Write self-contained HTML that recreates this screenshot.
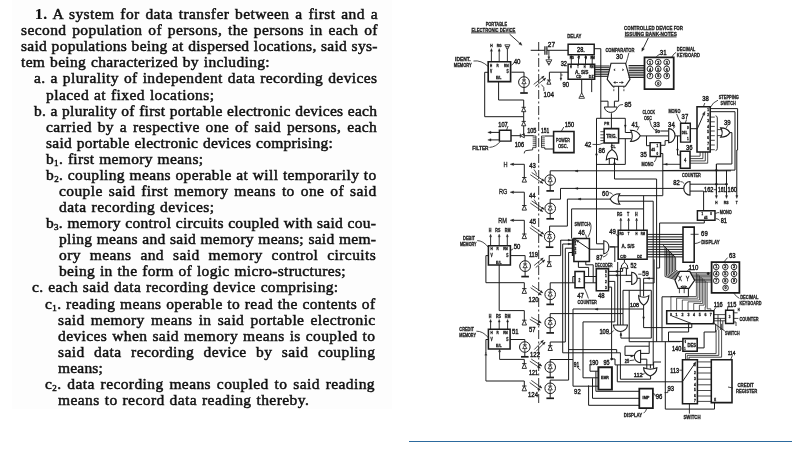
<!DOCTYPE html>
<html><head><meta charset="utf-8"><title>Claim 1</title>
<style>
html,body{margin:0;padding:0;background:#fff;}
body{width:804px;height:452px;position:relative;overflow:hidden;font-family:"Liberation Serif",serif;}
.l{position:absolute;height:16px;line-height:16px;font-size:15.5px;color:#111;white-space:nowrap;-webkit-text-stroke:0.5px #111;}
.l b{font-weight:bold;-webkit-text-stroke:0.2px #111;}
.l sub{font-size:9px;vertical-align:-2px;line-height:0;}
#txt{position:absolute;left:0;top:0;width:402px;height:452px;filter:blur(0.35px);}
#txtbg{position:absolute;left:12px;top:0;width:380px;height:409px;background:#fdfdfd;}
#rule{position:absolute;left:409px;top:440.8px;width:383px;height:1.2px;background:#2c6a9e;}
#dg{position:absolute;left:0;top:0;filter:blur(0.3px);}
</style></head><body>
<div id="txtbg"></div>
<div id="txt">
<div class="l" style="left:35px;top:6.10px;letter-spacing:0.400px;word-spacing:1.572px"><b>1.</b> A system for data transfer between a first and a</div>
<div class="l" style="left:21px;top:22.18px;letter-spacing:0.400px;word-spacing:1.491px">second population of persons, the persons in each of</div>
<div class="l" style="left:21px;top:38.26px;letter-spacing:0.291px;word-spacing:0.300px">said populations being at dispersed locations, said sys-</div>
<div class="l" style="left:21px;top:54.34px;letter-spacing:0.337px;word-spacing:0.600px">tem being characterized by including:</div>
<div class="l" style="left:34px;top:70.42px;letter-spacing:0.400px;word-spacing:0.723px">a. a plurality of independent data recording devices</div>
<div class="l" style="left:46px;top:86.50px;letter-spacing:0.436px;word-spacing:0.600px">placed at fixed locations;</div>
<div class="l" style="left:34px;top:102.58px;letter-spacing:0.253px;word-spacing:0.300px">b. a plurality of first portable electronic devices each</div>
<div class="l" style="left:46px;top:118.66px;letter-spacing:0.400px;word-spacing:1.553px">carried by a respective one of said persons, each</div>
<div class="l" style="left:46px;top:134.74px;letter-spacing:0.266px;word-spacing:0.600px">said portable electronic devices comprising:</div>
<div class="l" style="left:46px;top:150.82px;letter-spacing:0.316px;word-spacing:0.600px">b<sub>1</sub>. first memory means;</div>
<div class="l" style="left:46px;top:166.90px;letter-spacing:0.368px;word-spacing:0.300px">b<sub>2</sub>. coupling means operable at will temporarily to</div>
<div class="l" style="left:59px;top:182.98px;letter-spacing:0.400px;word-spacing:1.724px">couple said first memory means to one of said</div>
<div class="l" style="left:59px;top:199.06px;letter-spacing:0.459px;word-spacing:0.600px">data recording devices;</div>
<div class="l" style="left:46px;top:215.14px;letter-spacing:0.291px;word-spacing:0.300px">b<sub>3</sub>. memory control circuits coupled with said cou-</div>
<div class="l" style="left:59px;top:231.22px;letter-spacing:0.285px;word-spacing:0.300px">pling means and said memory means; said mem-</div>
<div class="l" style="left:59px;top:247.30px;letter-spacing:0.400px;word-spacing:4.714px">ory means and said memory control circuits</div>
<div class="l" style="left:59px;top:263.38px;letter-spacing:0.336px;word-spacing:0.600px">being in the form of logic micro-structures;</div>
<div class="l" style="left:32px;top:279.46px;letter-spacing:0.344px;word-spacing:0.600px">c. each said data recording device comprising:</div>
<div class="l" style="left:45px;top:295.54px;letter-spacing:0.400px;word-spacing:0.332px">c<sub>1</sub>. reading means operable to read the contents of</div>
<div class="l" style="left:58px;top:311.62px;letter-spacing:0.400px;word-spacing:1.874px">said memory means in said portable electronic</div>
<div class="l" style="left:58px;top:327.70px;letter-spacing:0.400px;word-spacing:0.718px">devices when said memory means is coupled to</div>
<div class="l" style="left:58px;top:343.78px;letter-spacing:0.400px;word-spacing:5.265px">said data recording device by said coupling</div>
<div class="l" style="left:58px;top:359.86px;letter-spacing:0.197px;word-spacing:0.600px">means;</div>
<div class="l" style="left:45px;top:375.94px;letter-spacing:0.400px;word-spacing:1.571px">c<sub>2</sub>. data recording means coupled to said reading</div>
<div class="l" style="left:58px;top:392.02px;letter-spacing:0.431px;word-spacing:0.600px">means to record data reading thereby.</div>
</div>
<svg id="dg" width="804" height="452" viewBox="0 0 804 452" font-family="'Liberation Sans', sans-serif" fill="#1b1b1b" stroke="#1b1b1b" stroke-linecap="butt" stroke-linejoin="miter">
<text x="496.4" y="25.8" font-size="5.8" font-weight="bold" text-anchor="middle" textLength="21.5" lengthAdjust="spacingAndGlyphs" stroke="#1b1b1b" stroke-width="0.32">PORTABLE</text>
<text x="493.4" y="31.7" font-size="5.8" font-weight="bold" text-anchor="middle" textLength="44" lengthAdjust="spacingAndGlyphs" stroke="#1b1b1b" stroke-width="0.32">ELECTRONIC DEVICE</text>
<path d="M471 32.9 L515.8 32.9" stroke-width="0.8" fill="none"/>
<path d="M509.6 34.1 L519.7 43.2" stroke-width="0.9" fill="none"/>
<path d="M522 45.3 L518.8 44.1 L520.5 42.2 Z" stroke-width="0.4" fill="#1b1b1b"/>
<text x="462.8" y="60.6" font-size="5.8" font-weight="bold" text-anchor="middle" textLength="15.5" lengthAdjust="spacingAndGlyphs" stroke="#1b1b1b" stroke-width="0.32">IDENT.</text>
<text x="462.8" y="66.8" font-size="5.8" font-weight="bold" text-anchor="middle" textLength="18" lengthAdjust="spacingAndGlyphs" stroke="#1b1b1b" stroke-width="0.32">MEMORY</text>
<path d="M473.5 61 Q481 59.8 488.5 66.7" stroke-width="0.8" fill="none"/>
<path d="M488.2 61.7 L510.6 61.7 L510.6 81.6 L488.2 81.6 Z" stroke-width="1.65" fill="none"/>
<path d="M491.4 61.7 L491.4 51.2" stroke-width="0.9" fill="none"/>
<path d="M491.4 48.6 L492.4 51.2 L490.4 51.2 Z" stroke-width="0.4" fill="#1b1b1b"/>
<text transform="translate(491.4 47.1) scale(0.8 1)" font-size="4.2" font-weight="bold" text-anchor="middle" stroke="#1b1b1b" stroke-width="0.32">H</text>
<path d="M499.2 61.7 L499.2 51.2" stroke-width="0.9" fill="none"/>
<path d="M499.2 48.6 L500.2 51.2 L498.2 51.2 Z" stroke-width="0.4" fill="#1b1b1b"/>
<text transform="translate(499.2 47.1) scale(0.8 1)" font-size="4.2" font-weight="bold" text-anchor="middle" stroke="#1b1b1b" stroke-width="0.32">RG</text>
<path d="M507.4 61.7 L507.4 49.9" stroke-width="0.9" fill="none"/>
<path d="M507.4 49.8 L507.5 49.9 L507.3 49.9 Z" stroke-width="0.4" fill="#1b1b1b"/>
<path d="M504.8 44.8 L510 44.8 L507.4 49.8 Z M505.8 46.5 L508.9 46.5 M506.6 48.1 L508.1 48.1" stroke-width="0.8" fill="none"/>
<text transform="translate(491.2 66.7) scale(0.72 1)" font-size="4.2" font-weight="bold" text-anchor="middle" stroke="#1b1b1b" stroke-width="0.32">H</text>
<text transform="translate(497.7 66.7) scale(0.72 1)" font-size="4.2" font-weight="bold" text-anchor="middle" stroke="#1b1b1b" stroke-width="0.32">R</text>
<text transform="translate(506.4 66.7) scale(0.7 1)" font-size="4.2" font-weight="bold" text-anchor="middle" stroke="#1b1b1b" stroke-width="0.32">RM</text>
<text transform="translate(491.2 72.6) scale(0.72 1)" font-size="4.6" font-weight="bold" text-anchor="middle" stroke="#1b1b1b" stroke-width="0.32">V</text>
<text transform="translate(507.6 72.6) scale(0.72 1)" font-size="4.6" font-weight="bold" text-anchor="middle" stroke="#1b1b1b" stroke-width="0.32">S</text>
<text transform="translate(498.7 79) scale(0.8 1)" font-size="4.4" font-weight="bold" text-anchor="middle" stroke="#1b1b1b" stroke-width="0.32">E/L</text>
<text transform="translate(517.1 64.1) scale(0.85 1)" font-size="7.2" font-weight="normal" text-anchor="middle" stroke="#1b1b1b" stroke-width="0.42">40</text>
<path d="M511.3 65.2 Q513.3 64.2 514.1 62.7" stroke-width="0.8" fill="none"/>
<path d="M511.3 72.2 L524 72.2 L524 76.7" stroke-width="1.0" fill="none"/>
<circle cx="524" cy="82.1" r="5.4" stroke-width="1.0" fill="none"/>
<path d="M524 76.7 L524 79.9 M522 79.9 L526 79.9 M524 80.1 L521.9 83.7 L526.1 83.7 Z M524 83.7 L524 87.5" stroke-width="0.8" fill="none"/>
<path d="M524 87.5 L524 92.5" stroke-width="1.0" fill="none"/>
<path d="M520.2 93 L527.8 93" stroke-width="1.7" fill="none"/>
<path d="M498.6 81.6 L498.6 100 L523.7 100 L523.7 107.2" stroke-width="1.0" fill="none"/>
<path d="M521.6 111.7 L525.8 111.7 L523.7 107.3 Z M521.6 107.3 L525.8 107.3" stroke-width="0.9" fill="none"/>
<path d="M523.7 111.7 L523.7 116.7" stroke-width="1.0" fill="none"/>
<path d="M488 72.3 L484.7 72.3 L484.7 116.7 L523.7 116.7 L523.7 121.3" stroke-width="1.0" fill="none"/>
<path d="M521.6 125.8 L525.8 125.8 L523.7 121.4 Z M521.6 121.4 L525.8 121.4" stroke-width="0.9" fill="none"/>
<path d="M523.7 125.8 L523.7 135.7" stroke-width="1.0" fill="none"/>
<path d="M538.7 42 L538.7 403" stroke-width="0.9" fill="none" stroke-dasharray="9 2.5 2 2.5"/>
<path d="M530.7 50.3 L544.9 50.3" stroke-width="1.0" fill="none"/>
<path d="M544.9 46.3 L544.9 54.8" stroke-width="1.2" fill="none"/>
<path d="M546.9 46.3 L546.9 54.8" stroke-width="1.2" fill="none"/>
<path d="M546.9 50.3 L568.1 50.3" stroke-width="1.0" fill="none"/>
<text transform="translate(551.4 47.1) scale(0.85 1)" font-size="7.6" font-weight="normal" text-anchor="middle" stroke="#1b1b1b" stroke-width="0.42">27</text>
<path d="M548.9 50.3 L548.9 56.7" stroke-width="0.9" fill="none"/>
<path d="M548.9 59.3 L547.9 56.7 L549.9 56.7 Z" stroke-width="0.4" fill="#1b1b1b"/>
<path d="M545.9 59.8 L551.9 59.8 L548.9 65.3 Z M547.1 61.6 L550.7 61.6 M548 63.4 L549.8 63.4" stroke-width="0.8" fill="none"/>
<text x="574.3" y="37.7" font-size="5.8" font-weight="bold" text-anchor="middle" textLength="14" lengthAdjust="spacingAndGlyphs" stroke="#1b1b1b" stroke-width="0.32">DELAY</text>
<path d="M568.1 44.3 L594.2 44.3 L594.2 54.8 L568.1 54.8 Z" stroke-width="1.4500000000000002" fill="none"/>
<text transform="translate(581 52.2) scale(0.85 1)" font-size="6.6" font-weight="normal" text-anchor="middle" stroke="#1b1b1b" stroke-width="0.42">28.</text>
<path d="M594.2 48.7 L600.8 48.7 L600.8 118.3" stroke-width="1.0" fill="none"/>
<path d="M571.3 64.2 L571.3 57.7" stroke-width="0.9" fill="none"/>
<path d="M571.3 55.3 L572.2 57.7 L570.4 57.7 Z" stroke-width="0.4" fill="#1b1b1b"/>
<text transform="translate(571.8 58.7) scale(0.8 1)" font-size="3.4" font-weight="bold" text-anchor="middle" stroke="#1b1b1b" stroke-width="0.32">RG</text>
<path d="M578.5 64.2 L578.5 57.7" stroke-width="0.9" fill="none"/>
<path d="M578.5 55.3 L579.4 57.7 L577.6 57.7 Z" stroke-width="0.4" fill="#1b1b1b"/>
<text transform="translate(579 58.7) scale(0.8 1)" font-size="3.4" font-weight="bold" text-anchor="middle" stroke="#1b1b1b" stroke-width="0.32">T</text>
<path d="M585.5 64.2 L585.5 57.7" stroke-width="0.9" fill="none"/>
<path d="M585.5 55.3 L586.4 57.7 L584.6 57.7 Z" stroke-width="0.4" fill="#1b1b1b"/>
<text transform="translate(586 58.7) scale(0.8 1)" font-size="3.4" font-weight="bold" text-anchor="middle" stroke="#1b1b1b" stroke-width="0.32">H</text>
<path d="M592.2 64.2 L592.2 57.7" stroke-width="0.9" fill="none"/>
<path d="M592.2 55.3 L593.1 57.7 L591.3 57.7 Z" stroke-width="0.4" fill="#1b1b1b"/>
<text transform="translate(592.7 58.7) scale(0.8 1)" font-size="3.4" font-weight="bold" text-anchor="middle" stroke="#1b1b1b" stroke-width="0.32">RM</text>
<path d="M568.1 64.2 L594.7 64.2 L594.7 79.2 L568.1 79.2 Z" stroke-width="1.4500000000000002" fill="none"/>
<text transform="translate(563.8 65.9) scale(0.85 1)" font-size="6.6" font-weight="normal" text-anchor="middle" stroke="#1b1b1b" stroke-width="0.42">32</text>
<text transform="translate(570.8 68.2) scale(0.72 1)" font-size="3.4" font-weight="bold" text-anchor="middle" stroke="#1b1b1b" stroke-width="0.32">H</text>
<text transform="translate(578 68.2) scale(0.72 1)" font-size="3.4" font-weight="bold" text-anchor="middle" stroke="#1b1b1b" stroke-width="0.32">T</text>
<text transform="translate(584.7 68.2) scale(0.72 1)" font-size="3.4" font-weight="bold" text-anchor="middle" stroke="#1b1b1b" stroke-width="0.32">H</text>
<text transform="translate(591.7 68.2) scale(0.72 1)" font-size="3.4" font-weight="bold" text-anchor="middle" stroke="#1b1b1b" stroke-width="0.32">RM</text>
<text x="581.7" y="73.5" font-size="5.0" font-weight="bold" text-anchor="middle" textLength="13.6" lengthAdjust="spacingAndGlyphs" stroke="#1b1b1b" stroke-width="0.32">A. S/S</text>
<text transform="translate(578.8 78.3) scale(0.8 1)" font-size="4.4" font-weight="bold" text-anchor="middle" stroke="#1b1b1b" stroke-width="0.32">CD</text>
<text transform="translate(591.2 78.3) scale(0.8 1)" font-size="4.4" font-weight="bold" text-anchor="middle" stroke="#1b1b1b" stroke-width="0.32">DZ</text>
<path d="M568.1 72.2 L549.4 72.2 L549.4 79.7" stroke-width="1.0" fill="none"/>
<path d="M546.9 84.2 L550.9 84.2 L548.9 80 Z M546.9 80 L550.9 80" stroke-width="0.9" fill="none"/>
<text transform="translate(565.8 87.4) scale(0.85 1)" font-size="7.0" font-weight="normal" text-anchor="middle" stroke="#1b1b1b" stroke-width="0.42">90</text>
<path d="M560.9 72.2 L560.9 78" stroke-width="0.9" fill="none"/>
<path d="M560.9 80.4 L560 78 L561.8 78 Z" stroke-width="0.4" fill="#1b1b1b"/>
<path d="M560.9 75 L562.6 75" stroke-width="0.8" fill="none"/>
<path d="M533.7 84.4 L544.1 76.1" stroke-width="0.8" fill="none"/>
<path d="M544.1 76.1 L542.8 78.6 L541.4 76.9 Z" stroke-width="0.3" fill="#1b1b1b"/>
<path d="M535.3 86.4 L545.7 78.2" stroke-width="0.8" fill="none"/>
<path d="M545.7 78.2 L544.4 80.7 L543 78.9 Z" stroke-width="0.3" fill="#1b1b1b"/>
<text x="548.7" y="96.8" font-size="7.0" font-weight="normal" text-anchor="middle" textLength="10.4" lengthAdjust="spacingAndGlyphs" stroke="#1b1b1b" stroke-width="0.42">104</text>
<path d="M541.4 84.6 Q544.9 87.1 543.9 91.1" stroke-width="0.8" fill="none"/>
<path d="M581.7 79.2 L581.7 93.3" stroke-width="1.0" fill="none"/>
<path d="M578.9 98.3 L584.5 98.3 L581.7 92.8 Z M580.1 96.5 L583.4 96.5" stroke-width="0.8" fill="none"/>
<path d="M591.7 79.2 L591.7 92.1" stroke-width="1.0" fill="none"/>
<path d="M594.7 66 L609.6 66" stroke-width="0.95" fill="none"/>
<path d="M594.7 67.7 L609.6 67.7" stroke-width="0.95" fill="none"/>
<path d="M594.7 69.5 L609.6 69.5" stroke-width="0.95" fill="none"/>
<path d="M594.7 71.2 L609.6 71.2" stroke-width="0.95" fill="none"/>
<path d="M594.7 72.9 L609.6 72.9" stroke-width="0.95" fill="none"/>
<path d="M594.7 74.7 L609.6 74.7" stroke-width="0.95" fill="none"/>
<path d="M594.7 76.4 L609.6 76.4" stroke-width="0.95" fill="none"/>
<text x="653.5" y="29.5" font-size="5.8" font-weight="bold" text-anchor="middle" textLength="59" lengthAdjust="spacingAndGlyphs" stroke="#1b1b1b" stroke-width="0.32">CONTROLLED DEVICE FOR</text>
<text x="650.8" y="36.2" font-size="5.8" font-weight="bold" text-anchor="middle" textLength="52" lengthAdjust="spacingAndGlyphs" stroke="#1b1b1b" stroke-width="0.32">ISSUING BANK-NOTES</text>
<path d="M624.6 36.9 L676.6 36.9" stroke-width="0.8" fill="none"/>
<path d="M648.3 37.9 L643.2 48.4" stroke-width="0.9" fill="none"/>
<path d="M641.8 51.3 L642 47.8 L644.4 49 Z" stroke-width="0.4" fill="#1b1b1b"/>
<text x="619.9" y="51.9" font-size="5.8" font-weight="bold" text-anchor="middle" textLength="29" lengthAdjust="spacingAndGlyphs" stroke="#1b1b1b" stroke-width="0.32">COMPARATOR</text>
<text transform="translate(619.4 59.4) scale(0.85 1)" font-size="7.2" font-weight="normal" text-anchor="middle" stroke="#1b1b1b" stroke-width="0.42">30</text>
<path d="M628.9 52.8 Q627.6 58.5 625.9 63.5" stroke-width="0.8" fill="none"/>
<path d="M611 63.3 L625.6 63.3 L630 79.4 L625.4 86.2 L612.6 86.2 L607.2 79.4 Z" stroke-width="1.1" fill="#fff"/>
<text transform="translate(614.5 71.2) scale(0.72 1)" font-size="3.4" font-weight="bold" text-anchor="middle" stroke="#1b1b1b" stroke-width="0.32">&lt;</text>
<text transform="translate(623 71.2) scale(0.72 1)" font-size="3.4" font-weight="bold" text-anchor="middle" stroke="#1b1b1b" stroke-width="0.32">&gt;</text>
<path d="M618 82.5 L615.3 82.5" stroke-width="0.7" fill="none"/>
<path d="M613.5 82.5 L615.3 81.6 L615.3 83.4 Z" stroke-width="0.4" fill="#1b1b1b"/>
<path d="M619 82.5 L621.7 82.5" stroke-width="0.7" fill="none"/>
<path d="M623.5 82.5 L621.7 83.4 L621.7 81.6 Z" stroke-width="0.4" fill="#1b1b1b"/>
<path d="M613.8 86.2 L613.8 91.4" stroke-width="0.8" fill="none" stroke-dasharray="2 1"/>
<path d="M623.9 86.2 L623.9 91.4" stroke-width="0.8" fill="none" stroke-dasharray="2 1"/>
<path d="M618.6 86.2 L618.6 101.2 L614.4 101.2 L614.4 107" stroke-width="1.0" fill="none"/>
<path d="M600.8 101.2 L608 101.2 L608 107" stroke-width="1.0" fill="none"/>
<path d="M604.3 107 L604.3 107 L617.2 107 L617.2 107 A6.5 6.2 0 0 1 604.3 107 Z" stroke-width="1.0" fill="#fff"/>
<text transform="translate(628 107.1) scale(0.85 1)" font-size="7.2" font-weight="normal" text-anchor="middle" stroke="#1b1b1b" stroke-width="0.42">85</text>
<path d="M617.5 107.5 Q619 104 623 104.5" stroke-width="0.8" fill="none"/>
<path d="M628.6 65.5 L644.5 65.5" stroke-width="0.95" fill="none"/>
<path d="M628.6 67.2 L644.5 67.2" stroke-width="0.95" fill="none"/>
<path d="M628.6 68.9 L644.5 68.9" stroke-width="0.95" fill="none"/>
<path d="M628.6 70.6 L644.5 70.6" stroke-width="0.95" fill="none"/>
<path d="M628.6 72.3 L644.5 72.3" stroke-width="0.95" fill="none"/>
<path d="M628.6 74.1 L644.5 74.1" stroke-width="0.95" fill="none"/>
<path d="M628.6 75.8 L644.5 75.8" stroke-width="0.95" fill="none"/>
<path d="M628.6 77.5 L644.5 77.5" stroke-width="0.95" fill="none"/>
<path d="M644.5 57.3 L673.7 57.3 L673.7 89.1 L644.5 89.1 Z" stroke-width="1.75" fill="none"/>
<circle cx="650" cy="62.2" r="2.9" stroke-width="0.9" fill="none"/>
<text transform="translate(650 63.8) scale(0.9 1)" font-size="4.2" font-weight="bold" text-anchor="middle" stroke="#1b1b1b" stroke-width="0.32">1</text>
<circle cx="658.2" cy="62.2" r="2.9" stroke-width="0.9" fill="none"/>
<text transform="translate(658.2 63.8) scale(0.9 1)" font-size="4.2" font-weight="bold" text-anchor="middle" stroke="#1b1b1b" stroke-width="0.32">2</text>
<circle cx="666.7" cy="62.2" r="2.9" stroke-width="0.9" fill="none"/>
<text transform="translate(666.7 63.8) scale(0.9 1)" font-size="4.2" font-weight="bold" text-anchor="middle" stroke="#1b1b1b" stroke-width="0.32">3</text>
<circle cx="650" cy="69" r="2.9" stroke-width="0.9" fill="none"/>
<text transform="translate(650 70.5) scale(0.9 1)" font-size="4.2" font-weight="bold" text-anchor="middle" stroke="#1b1b1b" stroke-width="0.32">4</text>
<circle cx="658.2" cy="69" r="2.9" stroke-width="0.9" fill="none"/>
<text transform="translate(658.2 70.5) scale(0.9 1)" font-size="4.2" font-weight="bold" text-anchor="middle" stroke="#1b1b1b" stroke-width="0.32">5</text>
<circle cx="666.7" cy="69" r="2.9" stroke-width="0.9" fill="none"/>
<text transform="translate(666.7 70.5) scale(0.9 1)" font-size="4.2" font-weight="bold" text-anchor="middle" stroke="#1b1b1b" stroke-width="0.32">6</text>
<circle cx="650" cy="75.9" r="2.9" stroke-width="0.9" fill="none"/>
<text transform="translate(650 77.4) scale(0.9 1)" font-size="4.2" font-weight="bold" text-anchor="middle" stroke="#1b1b1b" stroke-width="0.32">7</text>
<circle cx="658.2" cy="75.9" r="2.9" stroke-width="0.9" fill="none"/>
<text transform="translate(658.2 77.4) scale(0.9 1)" font-size="4.2" font-weight="bold" text-anchor="middle" stroke="#1b1b1b" stroke-width="0.32">8</text>
<circle cx="666.7" cy="75.9" r="2.9" stroke-width="0.9" fill="none"/>
<text transform="translate(666.7 77.4) scale(0.9 1)" font-size="4.2" font-weight="bold" text-anchor="middle" stroke="#1b1b1b" stroke-width="0.32">9</text>
<circle cx="658.2" cy="83.4" r="2.9" stroke-width="0.9" fill="none"/>
<text transform="translate(658.2 84.9) scale(0.9 1)" font-size="4.2" font-weight="bold" text-anchor="middle" stroke="#1b1b1b" stroke-width="0.32">0</text>
<text transform="translate(663.2 54.9) scale(0.85 1)" font-size="7.2" font-weight="normal" text-anchor="middle" stroke="#1b1b1b" stroke-width="0.42">31</text>
<path d="M660 54.3 Q657.5 54.8 656.2 57.3" stroke-width="0.8" fill="none"/>
<text x="686.1" y="51.1" font-size="5.8" font-weight="bold" text-anchor="middle" textLength="18.5" lengthAdjust="spacingAndGlyphs" stroke="#1b1b1b" stroke-width="0.32">DECIMAL</text>
<text x="688.3" y="57.4" font-size="5.8" font-weight="bold" text-anchor="middle" textLength="23" lengthAdjust="spacingAndGlyphs" stroke="#1b1b1b" stroke-width="0.32">KEYBOARD</text>
<path d="M676.1 52.3 Q673.7 53.5 671.7 57.3" stroke-width="0.8" fill="none"/>
<path d="M499.4 130.3 L511 130.3 L511 141.1 L499.4 141.1 Z" stroke-width="1.4500000000000002" fill="none"/>
<text transform="translate(503 127) scale(0.85 1)" font-size="6.6" font-weight="normal" text-anchor="middle" stroke="#1b1b1b" stroke-width="0.42">107</text>
<path d="M508 126 L506.5 130.3" stroke-width="0.8" fill="none"/>
<path d="M499.4 132.4 L491 132.4" stroke-width="1.0" fill="none"/>
<path d="M487.8 132.4 L491 131.2 L491 133.6 Z" stroke-width="0.4" fill="#1b1b1b"/>
<path d="M499.4 139.9 L491 139.9" stroke-width="1.0" fill="none"/>
<path d="M487.8 139.9 L491 138.7 L491 141.1 Z" stroke-width="0.4" fill="#1b1b1b"/>
<text x="480.4" y="149.5" font-size="5.8" font-weight="bold" text-anchor="middle" textLength="16.3" lengthAdjust="spacingAndGlyphs" stroke="#1b1b1b" stroke-width="0.32">FILTER</text>
<path d="M489.4 147.4 Q496 147 500.2 141.5" stroke-width="0.8" fill="none"/>
<path d="M511 135.7 L520.3 135.7" stroke-width="1.0" fill="none"/>
<path d="M524.3 133.7 L524.3 137.7 L520.3 135.7 Z M520.3 133.7 L520.3 137.7" stroke-width="0.9" fill="none"/>
<path d="M524.3 135.7 L533.5 135.7" stroke-width="1.0" fill="none"/>
<text x="531.8" y="133.1" font-size="6.4" font-weight="normal" text-anchor="middle" textLength="9.3" lengthAdjust="spacingAndGlyphs" stroke="#1b1b1b" stroke-width="0.42">105</text>
<text x="545.2" y="133.1" font-size="6.4" font-weight="normal" text-anchor="middle" textLength="8.2" lengthAdjust="spacingAndGlyphs" stroke="#1b1b1b" stroke-width="0.42">151</text>
<text x="519.4" y="147.3" font-size="6.4" font-weight="normal" text-anchor="middle" textLength="9.3" lengthAdjust="spacingAndGlyphs" stroke="#1b1b1b" stroke-width="0.42">106</text>
<path d="M536 136 L536 147.6 M536 136 L532.7 136 M536 137.9 L532.7 137.9 M536 139.9 L532.7 139.9 M536 141.8 L532.7 141.8 M536 143.7 L532.7 143.7 M536 145.7 L532.7 145.7 M536 147.6 L532.7 147.6" stroke-width="0.8" fill="none"/>
<path d="M541.5 136 L541.5 147.6 M541.5 136 L544.8 136 M541.5 137.9 L544.8 137.9 M541.5 139.9 L544.8 139.9 M541.5 141.8 L544.8 141.8 M541.5 143.7 L544.8 143.7 M541.5 145.7 L544.8 145.7 M541.5 147.6 L544.8 147.6" stroke-width="0.8" fill="none"/>
<path d="M532.7 147.6 L532.7 149.8 L526 150.6 Q524.2 151 524.2 153.4" stroke-width="0.9" fill="none"/>
<path d="M544.8 136 L553.6 136" stroke-width="1.0" fill="none"/>
<path d="M544.8 147.6 L544.8 149 L553.6 149" stroke-width="1.0" fill="none"/>
<path d="M553.6 131.4 L574 131.4 L574 152.6 L553.6 152.6 Z" stroke-width="1.5499999999999998" fill="none"/>
<text transform="translate(569.4 126.6) scale(0.85 1)" font-size="6.6" font-weight="normal" text-anchor="middle" stroke="#1b1b1b" stroke-width="0.42">150</text>
<path d="M563.8 127 L561.3 131.4" stroke-width="0.8" fill="none"/>
<text x="562.9" y="141.5" font-size="6.0" font-weight="bold" text-anchor="middle" textLength="13.7" lengthAdjust="spacingAndGlyphs" stroke="#1b1b1b" stroke-width="0.32">POWER</text>
<text x="562.9" y="147.8" font-size="6.0" font-weight="bold" text-anchor="middle" textLength="10" lengthAdjust="spacingAndGlyphs" stroke="#1b1b1b" stroke-width="0.32">OSC.</text>
<text transform="translate(505.5 166.5) scale(0.8 1)" font-size="7.0" font-weight="normal" text-anchor="middle" stroke="#1b1b1b" stroke-width="0.3">H</text>
<path d="M524.3 164.3 L513.6 164.3" stroke-width="1.0" fill="none"/>
<path d="M510.2 164.3 L513.6 163.1 L513.6 165.5 Z" stroke-width="0.4" fill="#1b1b1b"/>
<path d="M524.3 164.3 L524.3 177.5" stroke-width="1.0" fill="none"/>
<path d="M522.1 182.1 L526.5 182.1 L524.3 177.5 Z M522.1 177.5 L526.5 177.5" stroke-width="0.9" fill="none"/>
<text transform="translate(532.6 168) scale(0.85 1)" font-size="7.0" font-weight="normal" text-anchor="middle" stroke="#1b1b1b" stroke-width="0.42">43</text>
<text transform="translate(503.2 194.4) scale(0.8 1)" font-size="7.0" font-weight="normal" text-anchor="middle" stroke="#1b1b1b" stroke-width="0.3">RG</text>
<path d="M524.3 192.2 L513.6 192.2" stroke-width="1.0" fill="none"/>
<path d="M510.2 192.2 L513.6 191 L513.6 193.4 Z" stroke-width="0.4" fill="#1b1b1b"/>
<path d="M524.3 192.2 L524.3 205.5" stroke-width="1.0" fill="none"/>
<path d="M522.1 210.1 L526.5 210.1 L524.3 205.5 Z M522.1 205.5 L526.5 205.5" stroke-width="0.9" fill="none"/>
<text transform="translate(532.2 198.3) scale(0.85 1)" font-size="7.0" font-weight="normal" text-anchor="middle" stroke="#1b1b1b" stroke-width="0.42">44</text>
<text transform="translate(502.5 222.5) scale(0.8 1)" font-size="7.0" font-weight="normal" text-anchor="middle" stroke="#1b1b1b" stroke-width="0.3">RM</text>
<path d="M524.3 220.3 L513.6 220.3" stroke-width="1.0" fill="none"/>
<path d="M510.2 220.3 L513.6 219.1 L513.6 221.5 Z" stroke-width="0.4" fill="#1b1b1b"/>
<path d="M524.3 220.3 L524.3 234" stroke-width="1.0" fill="none"/>
<path d="M522.1 238.6 L526.5 238.6 L524.3 234 Z M522.1 234 L526.5 234" stroke-width="0.9" fill="none"/>
<text transform="translate(532.8 223.5) scale(0.85 1)" font-size="7.0" font-weight="normal" text-anchor="middle" stroke="#1b1b1b" stroke-width="0.42">45</text>
<circle cx="550.2" cy="180.1" r="5.3" stroke-width="1.0" fill="none"/>
<path d="M550.2 174.8 L550.2 177.9 M548.2 177.9 L552.2 177.9 M550.2 178.1 L548.1 181.7 L552.3 181.7 Z M550.2 181.7 L550.2 185.4" stroke-width="0.8" fill="none"/>
<path d="M550.2 185.4 L550.2 190.4" stroke-width="1.0" fill="none"/>
<path d="M546.4 190.9 L554 190.9" stroke-width="1.7" fill="none"/>
<circle cx="550.2" cy="208.4" r="5.3" stroke-width="1.0" fill="none"/>
<path d="M550.2 203.1 L550.2 206.2 M548.2 206.2 L552.2 206.2 M550.2 206.4 L548.1 210 L552.3 210 Z M550.2 210 L550.2 213.7" stroke-width="0.8" fill="none"/>
<path d="M550.2 213.7 L550.2 218.3" stroke-width="1.0" fill="none"/>
<path d="M546.4 218.8 L554 218.8" stroke-width="1.7" fill="none"/>
<circle cx="549.6" cy="236.7" r="5.2" stroke-width="1.0" fill="none"/>
<path d="M549.6 231.5 L549.6 234.5 M547.6 234.5 L551.6 234.5 M549.6 234.7 L547.5 238.3 L551.7 238.3 Z M549.6 238.3 L549.6 241.9" stroke-width="0.8" fill="none"/>
<path d="M549.6 241.9 L549.6 246.7" stroke-width="1.0" fill="none"/>
<path d="M545.8 247.2 L553.4 247.2" stroke-width="1.7" fill="none"/>
<circle cx="550.2" cy="294.4" r="5.3" stroke-width="1.0" fill="none"/>
<path d="M550.2 289.1 L550.2 292.2 M548.2 292.2 L552.2 292.2 M550.2 292.4 L548.1 296 L552.3 296 Z M550.2 296 L550.2 299.7" stroke-width="0.8" fill="none"/>
<path d="M550.2 299.7 L550.2 303.9" stroke-width="1.0" fill="none"/>
<path d="M546.4 304.4 L554 304.4" stroke-width="1.7" fill="none"/>
<circle cx="550.2" cy="322.7" r="5.3" stroke-width="1.0" fill="none"/>
<path d="M550.2 317.4 L550.2 320.5 M548.2 320.5 L552.2 320.5 M550.2 320.7 L548.1 324.3 L552.3 324.3 Z M550.2 324.3 L550.2 328" stroke-width="0.8" fill="none"/>
<path d="M550.2 328 L550.2 332.4" stroke-width="1.0" fill="none"/>
<path d="M546.4 332.9 L554 332.9" stroke-width="1.7" fill="none"/>
<circle cx="550.2" cy="367.1" r="5.3" stroke-width="1.0" fill="none"/>
<path d="M550.2 361.8 L550.2 364.9 M548.2 364.9 L552.2 364.9 M550.2 365.1 L548.1 368.7 L552.3 368.7 Z M550.2 368.7 L550.2 372.4" stroke-width="0.8" fill="none"/>
<path d="M550.2 372.4 L550.2 377" stroke-width="1.0" fill="none"/>
<path d="M546.4 377.5 L554 377.5" stroke-width="1.7" fill="none"/>
<circle cx="550.2" cy="388.3" r="5.3" stroke-width="1.0" fill="none"/>
<path d="M550.2 383 L550.2 386.1 M548.2 386.1 L552.2 386.1 M550.2 386.3 L548.1 389.9 L552.3 389.9 Z M550.2 389.9 L550.2 393.6" stroke-width="0.8" fill="none"/>
<path d="M550.2 393.6 L550.2 397.8" stroke-width="1.0" fill="none"/>
<path d="M546.4 398.3 L554 398.3" stroke-width="1.7" fill="none"/>
<path d="M531.7 172.5 L544.3 181.1" stroke-width="0.8" fill="none"/>
<path d="M544.3 181.1 L541.6 180.6 L542.8 178.8 Z" stroke-width="0.3" fill="#1b1b1b"/>
<path d="M530.3 174.7 L542.9 183.3" stroke-width="0.8" fill="none"/>
<path d="M542.9 183.3 L540.1 182.7 L541.3 180.9 Z" stroke-width="0.3" fill="#1b1b1b"/>
<path d="M531.7 200.9 L544.1 209.3" stroke-width="0.8" fill="none"/>
<path d="M544.1 209.3 L541.4 208.8 L542.6 207 Z" stroke-width="0.3" fill="#1b1b1b"/>
<path d="M530.3 203.1 L542.7 211.5" stroke-width="0.8" fill="none"/>
<path d="M542.7 211.5 L539.9 210.9 L541.1 209.1 Z" stroke-width="0.3" fill="#1b1b1b"/>
<path d="M531.2 225.5 L543.7 234.1" stroke-width="0.8" fill="none"/>
<path d="M543.7 234.1 L541 233.6 L542.2 231.7 Z" stroke-width="0.3" fill="#1b1b1b"/>
<path d="M529.8 227.7 L542.3 236.3" stroke-width="0.8" fill="none"/>
<path d="M542.3 236.3 L539.5 235.7 L540.7 233.9 Z" stroke-width="0.3" fill="#1b1b1b"/>
<path d="M532 285.5 L542.7 292.7" stroke-width="0.8" fill="none"/>
<path d="M542.7 292.7 L540 292.2 L541.2 290.4 Z" stroke-width="0.3" fill="#1b1b1b"/>
<path d="M530.6 287.7 L541.3 294.9" stroke-width="0.8" fill="none"/>
<path d="M541.3 294.9 L538.5 294.3 L539.7 292.5 Z" stroke-width="0.3" fill="#1b1b1b"/>
<path d="M531.2 317.1 L541.2 322.9" stroke-width="0.8" fill="none"/>
<path d="M541.2 322.9 L538.4 322.5 L539.5 320.6 Z" stroke-width="0.3" fill="#1b1b1b"/>
<path d="M529.8 319.3 L539.8 325.1" stroke-width="0.8" fill="none"/>
<path d="M539.8 325.1 L537 324.8 L538.2 322.9 Z" stroke-width="0.3" fill="#1b1b1b"/>
<path d="M531.2 359 L541.7 365.9" stroke-width="0.8" fill="none"/>
<path d="M541.7 365.9 L538.9 365.4 L540.1 363.6 Z" stroke-width="0.3" fill="#1b1b1b"/>
<path d="M529.8 361.2 L540.3 368.1" stroke-width="0.8" fill="none"/>
<path d="M540.3 368.1 L537.5 367.6 L538.7 365.7 Z" stroke-width="0.3" fill="#1b1b1b"/>
<path d="M531.3 380.4 L541.8 387.9" stroke-width="0.8" fill="none"/>
<path d="M541.8 387.9 L539 387.3 L540.3 385.5 Z" stroke-width="0.3" fill="#1b1b1b"/>
<path d="M529.7 382.6 L540.2 390.1" stroke-width="0.8" fill="none"/>
<path d="M540.2 390.1 L537.5 389.4 L538.8 387.7 Z" stroke-width="0.3" fill="#1b1b1b"/>
<path d="M534 169.5 Q536 172 536.6 174.5" stroke-width="0.8" fill="none"/>
<path d="M534 199.5 Q536 202 536.6 204.5" stroke-width="0.8" fill="none"/>
<circle cx="525.1" cy="266.1" r="5.4" stroke-width="1.0" fill="none"/>
<path d="M525.1 260.7 L525.1 263.9 M523.1 263.9 L527.1 263.9 M525.1 264.1 L523 267.7 L527.2 267.7 Z M525.1 267.7 L525.1 271.5" stroke-width="0.8" fill="none"/>
<path d="M525.1 271.5 L525.1 276.1" stroke-width="1.0" fill="none"/>
<path d="M521.3 276.6 L528.9 276.6" stroke-width="1.7" fill="none"/>
<circle cx="524.8" cy="347" r="5.3" stroke-width="1.0" fill="none"/>
<path d="M524.8 341.7 L524.8 344.8 M522.8 344.8 L526.8 344.8 M524.8 345 L522.7 348.6 L526.9 348.6 Z M524.8 348.6 L524.8 352.3" stroke-width="0.8" fill="none"/>
<path d="M524.8 352.3 L524.8 356.3" stroke-width="1.0" fill="none"/>
<path d="M521 356.8 L528.6 356.8" stroke-width="1.7" fill="none"/>
<text x="469" y="240.1" font-size="5.8" font-weight="bold" text-anchor="middle" textLength="11.8" lengthAdjust="spacingAndGlyphs" stroke="#1b1b1b" stroke-width="0.32">DEBIT</text>
<text x="468.3" y="245.6" font-size="5.8" font-weight="bold" text-anchor="middle" textLength="16.6" lengthAdjust="spacingAndGlyphs" stroke="#1b1b1b" stroke-width="0.32">MEMORY</text>
<path d="M477.2 240.6 Q483 240.5 488.6 247.5" stroke-width="0.8" fill="none"/>
<path d="M488.4 245.7 L510.4 245.7 L510.4 264.9 L488.4 264.9 Z" stroke-width="1.5499999999999998" fill="none"/>
<path d="M490.6 245.7 L490.6 236.8" stroke-width="0.9" fill="none"/>
<path d="M490.6 234.2 L491.6 236.8 L489.6 236.8 Z" stroke-width="0.4" fill="#1b1b1b"/>
<text transform="translate(490 232.3) scale(0.78 1)" font-size="4.6" font-weight="bold" text-anchor="middle" stroke="#1b1b1b" stroke-width="0.32">H</text>
<path d="M499.2 245.7 L499.2 236.8" stroke-width="0.9" fill="none"/>
<path d="M499.2 234.2 L500.2 236.8 L498.2 236.8 Z" stroke-width="0.4" fill="#1b1b1b"/>
<text transform="translate(497.8 232.3) scale(0.78 1)" font-size="4.6" font-weight="bold" text-anchor="middle" stroke="#1b1b1b" stroke-width="0.32">RS</text>
<path d="M507.3 245.7 L507.3 236.8" stroke-width="0.9" fill="none"/>
<path d="M507.3 234.2 L508.3 236.8 L506.3 236.8 Z" stroke-width="0.4" fill="#1b1b1b"/>
<text transform="translate(507.6 232.3) scale(0.78 1)" font-size="4.6" font-weight="bold" text-anchor="middle" stroke="#1b1b1b" stroke-width="0.32">RM</text>
<text transform="translate(491.5 250) scale(0.72 1)" font-size="4.2" font-weight="bold" text-anchor="middle" stroke="#1b1b1b" stroke-width="0.32">H</text>
<text transform="translate(497.7 250) scale(0.72 1)" font-size="4.2" font-weight="bold" text-anchor="middle" stroke="#1b1b1b" stroke-width="0.32">R</text>
<text transform="translate(505.5 250) scale(0.7 1)" font-size="4.2" font-weight="bold" text-anchor="middle" stroke="#1b1b1b" stroke-width="0.32">RM</text>
<text transform="translate(491.5 257.1) scale(0.72 1)" font-size="4.6" font-weight="bold" text-anchor="middle" stroke="#1b1b1b" stroke-width="0.32">V</text>
<text transform="translate(507.3 257.1) scale(0.72 1)" font-size="4.6" font-weight="bold" text-anchor="middle" stroke="#1b1b1b" stroke-width="0.32">S</text>
<text transform="translate(498.8 263.7) scale(0.8 1)" font-size="4.4" font-weight="bold" text-anchor="middle" stroke="#1b1b1b" stroke-width="0.32">E/L</text>
<text transform="translate(517 249.1) scale(0.85 1)" font-size="7.0" font-weight="normal" text-anchor="middle" stroke="#1b1b1b" stroke-width="0.42">50</text>
<path d="M510.4 250 Q512.5 250.5 513 248.5" stroke-width="0.8" fill="none"/>
<path d="M510.4 255.6 L525.1 255.6 L525.1 260.7" stroke-width="1.0" fill="none"/>
<text x="533.4" y="257.4" font-size="6.8" font-weight="normal" text-anchor="middle" textLength="9" lengthAdjust="spacingAndGlyphs" stroke="#1b1b1b" stroke-width="0.42">119</text>
<path d="M534.1 265.5 L543.2 258" stroke-width="0.8" fill="none"/>
<path d="M543.2 258 L541.9 260.5 L540.5 258.8 Z" stroke-width="0.3" fill="#1b1b1b"/>
<path d="M535.7 267.5 L544.8 260" stroke-width="0.8" fill="none"/>
<path d="M544.8 260 L543.5 262.5 L542.1 260.8 Z" stroke-width="0.3" fill="#1b1b1b"/>
<path d="M547 266.6 L551.4 266.6 L549.2 261.8 Z M547 261.8 L551.4 261.8" stroke-width="0.9" fill="none"/>
<path d="M549.2 261.8 L549.2 255.6 L560.7 255.6 L560.7 240.2" stroke-width="1.0" fill="none"/>
<path d="M488.4 255.6 L485.9 255.6 L485.9 282.7 L524.3 282.7 L524.3 288.6" stroke-width="1.0" fill="none"/>
<path d="M522.1 293.4 L526.5 293.4 L524.3 288.6 Z M522.1 288.6 L526.5 288.6" stroke-width="0.9" fill="none"/>
<text x="533.6" y="302" font-size="6.8" font-weight="normal" text-anchor="middle" textLength="10" lengthAdjust="spacingAndGlyphs" stroke="#1b1b1b" stroke-width="0.42">120</text>
<path d="M499.2 264.9 L499.2 310.6 L524.3 310.6 L524.3 320.2" stroke-width="1.0" fill="none"/>
<path d="M522.1 325 L526.5 325 L524.3 320.2 Z M522.1 320.2 L526.5 320.2" stroke-width="0.9" fill="none"/>
<text transform="translate(532.2 331.8) scale(0.85 1)" font-size="6.8" font-weight="normal" text-anchor="middle" stroke="#1b1b1b" stroke-width="0.42">57</text>
<text x="466.6" y="330.6" font-size="5.8" font-weight="bold" text-anchor="middle" textLength="14.6" lengthAdjust="spacingAndGlyphs" stroke="#1b1b1b" stroke-width="0.32">CREDIT</text>
<text x="467.6" y="336.8" font-size="5.8" font-weight="bold" text-anchor="middle" textLength="16.6" lengthAdjust="spacingAndGlyphs" stroke="#1b1b1b" stroke-width="0.32">MEMORY</text>
<path d="M476.4 331.2 Q483 331 488.6 338" stroke-width="0.8" fill="none"/>
<path d="M488.4 329.2 L510.1 329.2 L510.1 349 L488.4 349 Z" stroke-width="1.5499999999999998" fill="none"/>
<path d="M490.6 329.2 L490.6 322" stroke-width="0.9" fill="none"/>
<path d="M490.6 319.4 L491.6 322 L489.6 322 Z" stroke-width="0.4" fill="#1b1b1b"/>
<text transform="translate(490 318.1) scale(0.78 1)" font-size="4.6" font-weight="bold" text-anchor="middle" stroke="#1b1b1b" stroke-width="0.32">H</text>
<path d="M499.2 329.2 L499.2 322" stroke-width="0.9" fill="none"/>
<path d="M499.2 319.4 L500.2 322 L498.2 322 Z" stroke-width="0.4" fill="#1b1b1b"/>
<text transform="translate(498.5 318.1) scale(0.78 1)" font-size="4.6" font-weight="bold" text-anchor="middle" stroke="#1b1b1b" stroke-width="0.32">RS</text>
<path d="M507.6 329.2 L507.6 322" stroke-width="0.9" fill="none"/>
<path d="M507.6 319.4 L508.6 322 L506.6 322 Z" stroke-width="0.4" fill="#1b1b1b"/>
<text transform="translate(507.6 318.1) scale(0.78 1)" font-size="4.6" font-weight="bold" text-anchor="middle" stroke="#1b1b1b" stroke-width="0.32">RM</text>
<text transform="translate(491.5 333.9) scale(0.72 1)" font-size="4.2" font-weight="bold" text-anchor="middle" stroke="#1b1b1b" stroke-width="0.32">H</text>
<text transform="translate(497.7 333.9) scale(0.72 1)" font-size="4.2" font-weight="bold" text-anchor="middle" stroke="#1b1b1b" stroke-width="0.32">R</text>
<text transform="translate(505.5 333.9) scale(0.7 1)" font-size="4.2" font-weight="bold" text-anchor="middle" stroke="#1b1b1b" stroke-width="0.32">RM</text>
<text transform="translate(491.5 340.7) scale(0.72 1)" font-size="4.6" font-weight="bold" text-anchor="middle" stroke="#1b1b1b" stroke-width="0.32">V</text>
<text transform="translate(507.3 340.7) scale(0.72 1)" font-size="4.6" font-weight="bold" text-anchor="middle" stroke="#1b1b1b" stroke-width="0.32">S</text>
<text transform="translate(498.8 347) scale(0.8 1)" font-size="4.4" font-weight="bold" text-anchor="middle" stroke="#1b1b1b" stroke-width="0.32">E/L</text>
<text transform="translate(515.2 334.1) scale(0.85 1)" font-size="7.0" font-weight="normal" text-anchor="middle" stroke="#1b1b1b" stroke-width="0.42">51</text>
<path d="M510.1 339.5 L524.8 339.5 L524.8 341.7" stroke-width="1.0" fill="none"/>
<text x="535" y="357.2" font-size="6.8" font-weight="normal" text-anchor="middle" textLength="10" lengthAdjust="spacingAndGlyphs" stroke="#1b1b1b" stroke-width="0.42">122</text>
<path d="M534.3 349.5 L543.3 340.3" stroke-width="0.8" fill="none"/>
<path d="M543.3 340.3 L542.2 342.9 L540.7 341.4 Z" stroke-width="0.3" fill="#1b1b1b"/>
<path d="M536.1 351.3 L545.1 342.1" stroke-width="0.8" fill="none"/>
<path d="M545.1 342.1 L544.1 344.7 L542.5 343.2 Z" stroke-width="0.3" fill="#1b1b1b"/>
<path d="M548 350.5 L552.4 350.5 L550.2 345.7 Z M548 345.7 L552.4 345.7" stroke-width="0.9" fill="none"/>
<path d="M550.2 345.7 L550.2 342 L565.3 342" stroke-width="1.0" fill="none"/>
<path d="M499.6 359.4 L499.6 351.8" stroke-width="0.9" fill="none"/>
<path d="M499.6 349.2 L500.6 351.8 L498.6 351.8 Z" stroke-width="0.4" fill="#1b1b1b"/>
<path d="M499.6 359.4 L524.3 359.4 L524.3 363.6" stroke-width="1.0" fill="none"/>
<path d="M522.1 368.4 L526.5 368.4 L524.3 363.6 Z M522.1 363.6 L526.5 363.6" stroke-width="0.9" fill="none"/>
<text x="533.6" y="374.7" font-size="6.8" font-weight="normal" text-anchor="middle" textLength="9" lengthAdjust="spacingAndGlyphs" stroke="#1b1b1b" stroke-width="0.42">121</text>
<path d="M485.9 381 L485.9 355.3" stroke-width="0.9" fill="none"/>
<path d="M485.9 352.5 L486.9 355.3 L484.9 355.3 Z" stroke-width="0.4" fill="#1b1b1b"/>
<path d="M488.4 339.5 L485.9 339.5 L485.9 353" stroke-width="1.0" fill="none"/>
<path d="M485.9 381 L524.3 381 L524.3 386" stroke-width="1.0" fill="none"/>
<path d="M522.1 390.8 L526.5 390.8 L524.3 386 Z M522.1 386 L526.5 386" stroke-width="0.9" fill="none"/>
<text x="533" y="396.7" font-size="6.8" font-weight="normal" text-anchor="middle" textLength="10" lengthAdjust="spacingAndGlyphs" stroke="#1b1b1b" stroke-width="0.42">124</text>
<path d="M611.4 113.2 L611.4 128.6" stroke-width="1.0" fill="none"/>
<path d="M625.3 132.5 L625.3 118.3 L596.5 118.3 L596.5 243.8 L603.8 243.8" stroke-width="1.0" fill="none"/>
<path d="M596.5 164.4 L625.3 164.4 L625.3 138.7" stroke-width="1.0" fill="none"/>
<path d="M596.5 152.5 L597.5 155.1 L595.5 155.1 Z" stroke-width="0.4" fill="#1b1b1b"/>
<path d="M625.3 132.5 L630.9 132.5" stroke-width="1.0" fill="none"/>
<path d="M618.6 138.7 L631 138.7" stroke-width="1.0" fill="none"/>
<path d="M625.3 127.5 L624.4 125.1 L626.2 125.1 Z" stroke-width="0.4" fill="#1b1b1b"/>
<text transform="translate(606.8 124.9) scale(0.8 1)" font-size="4.4" font-weight="bold" text-anchor="middle" stroke="#1b1b1b" stroke-width="0.32">PR</text>
<path d="M604.2 128.6 L618.6 128.6 L618.6 143 L604.2 143 Z" stroke-width="1.5499999999999998" fill="none"/>
<text x="611.4" y="137.9" font-size="5.4" font-weight="bold" text-anchor="middle" textLength="10.5" lengthAdjust="spacingAndGlyphs" stroke="#1b1b1b" stroke-width="0.32">TRIG.</text>
<path d="M600.4 131.7 L604.2 131.7" stroke-width="0.8" fill="none"/>
<path d="M600.4 134.8 L604.2 134.8" stroke-width="0.8" fill="none"/>
<path d="M600.4 137.9 L604.2 137.9" stroke-width="0.8" fill="none"/>
<path d="M600.4 140.6 L604.2 140.6" stroke-width="0.8" fill="none"/>
<text transform="translate(588 147.3) scale(0.85 1)" font-size="7.0" font-weight="normal" text-anchor="middle" stroke="#1b1b1b" stroke-width="0.42">42</text>
<path d="M592.5 144.4 Q600 145.5 604.4 142.6" stroke-width="0.8" fill="none"/>
<text transform="translate(613.2 147.5) scale(0.8 1)" font-size="4.4" font-weight="bold" text-anchor="middle" stroke="#1b1b1b" stroke-width="0.32">CL</text>
<text transform="translate(601.8 152.5) scale(0.85 1)" font-size="7.0" font-weight="normal" text-anchor="middle" stroke="#1b1b1b" stroke-width="0.42">86</text>
<path d="M611.8 143 L611.8 149.6" stroke-width="1.0" fill="none"/>
<path d="M606.3 159.8 Q606.3 152.6 612 149.5 Q617.6 152.6 617.6 159.8 Q612 156.2 606.3 159.8 Z" stroke-width="1.1" fill="#fff"/>
<path d="M609.3 158.2 L609.3 164.4" stroke-width="1.0" fill="none"/>
<path d="M614.5 158.2 L614.5 179 L656.6 179 L656.6 341.7" stroke-width="1.0" fill="none"/>
<path d="M614.5 161.5 L615.5 164.1 L613.5 164.1 Z" stroke-width="0.4" fill="#1b1b1b"/>
<text transform="translate(634.9 127.3) scale(0.85 1)" font-size="7.0" font-weight="normal" text-anchor="middle" stroke="#1b1b1b" stroke-width="0.42">41</text>
<path d="M639.2 126.4 L637.2 130.4" stroke-width="0.8" fill="none"/>
<path d="M630.6 130.2 Q637.4 130.2 640.3 135.8 Q637.4 141.5 630.6 141.5 Q634 135.8 630.6 130.2 Z" stroke-width="1.1" fill="#fff"/>
<path d="M640.3 135.9 L668.7 135.9" stroke-width="1.0" fill="none"/>
<text x="648.8" y="113.8" font-size="5.8" font-weight="bold" text-anchor="middle" textLength="12.5" lengthAdjust="spacingAndGlyphs" stroke="#1b1b1b" stroke-width="0.32">CLOCK</text>
<text x="648" y="119.5" font-size="5.8" font-weight="bold" text-anchor="middle" textLength="8" lengthAdjust="spacingAndGlyphs" stroke="#1b1b1b" stroke-width="0.32">OSC</text>
<path d="M649.6 120.2 Q650.5 127 655 130.4" stroke-width="0.8" fill="none"/>
<text transform="translate(656.5 127.3) scale(0.85 1)" font-size="7.0" font-weight="normal" text-anchor="middle" stroke="#1b1b1b" stroke-width="0.42">33</text>
<text transform="translate(657.6 132.6) scale(0.9 1)" font-size="4.6" font-weight="bold" text-anchor="middle" stroke="#1b1b1b" stroke-width="0.32">9o</text>
<path d="M660.3 131 L668.7 131" stroke-width="1.0" fill="none"/>
<text transform="translate(671.4 126.5) scale(0.85 1)" font-size="7.0" font-weight="normal" text-anchor="middle" stroke="#1b1b1b" stroke-width="0.42">34</text>
<path d="M674.9 126.4 L673.3 128.7" stroke-width="0.8" fill="none"/>
<path d="M668.7 128.6 L668.7 128.6 L668.7 142.6 L668.7 142.6 A6.3 7 0 0 0 668.7 128.6 Z" stroke-width="1.1" fill="#fff"/>
<path d="M650.1 142.6 L660.5 142.6 L660.5 156.5 L650.1 156.5 Z" stroke-width="1.4500000000000002" fill="none"/>
<text transform="translate(657.4 146.8) scale(0.72 1)" font-size="4.2" font-weight="bold" text-anchor="middle" stroke="#1b1b1b" stroke-width="0.32">1</text>
<text transform="translate(653.2 150.8) scale(0.8 1)" font-size="4.2" font-weight="bold" text-anchor="middle" stroke="#1b1b1b" stroke-width="0.32">45</text>
<text transform="translate(657.4 155) scale(0.72 1)" font-size="4.2" font-weight="bold" text-anchor="middle" stroke="#1b1b1b" stroke-width="0.32">0</text>
<text transform="translate(643.6 156.8) scale(0.85 1)" font-size="7.0" font-weight="normal" text-anchor="middle" stroke="#1b1b1b" stroke-width="0.42">35</text>
<text x="647.6" y="165.6" font-size="5.8" font-weight="bold" text-anchor="middle" textLength="12" lengthAdjust="spacingAndGlyphs" stroke="#1b1b1b" stroke-width="0.32">MONO</text>
<path d="M654.3 162 Q656 160 656.6 156.6" stroke-width="0.8" fill="none"/>
<path d="M646.5 135.9 L646.5 145.7 L650.1 145.7" stroke-width="1.0" fill="none"/>
<path d="M660.5 145.3 L665.1 145.3 L665.1 140.6 L668.7 140.6" stroke-width="1.0" fill="none"/>
<path d="M660.5 153.5 L662.8 153.5 L662.8 195.6" stroke-width="1.0" fill="none"/>
<path d="M662.8 164.3 L680.5 164.3" stroke-width="0.9" fill="none"/>
<path d="M680.6 164.3 L680.5 164.4 L680.5 164.2 Z" stroke-width="0.4" fill="#1b1b1b"/>
<path d="M664.6 164.3 L667.2 163.3 L667.2 165.3 Z" stroke-width="0.4" fill="#1b1b1b"/>
<text x="674.4" y="113.3" font-size="5.8" font-weight="bold" text-anchor="middle" textLength="12" lengthAdjust="spacingAndGlyphs" stroke="#1b1b1b" stroke-width="0.32">MONO</text>
<path d="M676.7 114 Q678.5 120 681.4 123.2" stroke-width="0.8" fill="none"/>
<text transform="translate(684.9 118.9) scale(0.85 1)" font-size="7.0" font-weight="normal" text-anchor="middle" stroke="#1b1b1b" stroke-width="0.42">37</text>
<path d="M686.5 119.6 L685.2 123.2" stroke-width="0.8" fill="none"/>
<path d="M680.6 123.2 L690.3 123.2 L690.3 142.1 L680.6 142.1 Z" stroke-width="1.4500000000000002" fill="none"/>
<text transform="translate(687.8 128.7) scale(0.72 1)" font-size="4.2" font-weight="bold" text-anchor="middle" stroke="#1b1b1b" stroke-width="0.32">0</text>
<text transform="translate(684.6 134) scale(0.75 1)" font-size="3.8" font-weight="bold" text-anchor="middle" stroke="#1b1b1b" stroke-width="0.32">DEL</text>
<text transform="translate(687.8 140.2) scale(0.72 1)" font-size="4.2" font-weight="bold" text-anchor="middle" stroke="#1b1b1b" stroke-width="0.32">1</text>
<path d="M675 135.9 L680.6 135.9" stroke-width="1.0" fill="none"/>
<path d="M677.5 135.9 L677.5 155 L680.6 155" stroke-width="1.0" fill="none"/>
<path d="M677.5 151.5 L676.6 149.1 L678.4 149.1 Z" stroke-width="0.4" fill="#1b1b1b"/>
<path d="M690.3 128.7 L697 128.7" stroke-width="1.0" fill="none"/>
<text transform="translate(689.2 149.8) scale(0.85 1)" font-size="7.0" font-weight="normal" text-anchor="middle" stroke="#1b1b1b" stroke-width="0.42">36</text>
<path d="M680.4 151.3 L690 151.3 L690 168.2 L680.4 168.2 Z" stroke-width="1.5499999999999998" fill="none"/>
<text transform="translate(685.2 161.5) scale(0.72 1)" font-size="4.8" font-weight="bold" text-anchor="middle" stroke="#1b1b1b" stroke-width="0.32">4</text>
<text x="691.4" y="177" font-size="5.8" font-weight="bold" text-anchor="middle" textLength="19" lengthAdjust="spacingAndGlyphs" stroke="#1b1b1b" stroke-width="0.32">COUNTER</text>
<path d="M690 156.2 L700.1 156.2 L700.1 151.9" stroke-width="0.8" fill="none"/>
<path d="M690 158.6 L702.9 158.6 L702.9 151.9" stroke-width="0.8" fill="none"/>
<path d="M690 160.9 L705.3 160.9 L705.3 151.9" stroke-width="0.8" fill="none"/>
<path d="M690 163.2 L707.7 163.2 L707.7 151.9" stroke-width="0.8" fill="none"/>
<text transform="translate(705.6 100.7) scale(0.85 1)" font-size="7.0" font-weight="normal" text-anchor="middle" stroke="#1b1b1b" stroke-width="0.42">38</text>
<path d="M704.8 103 L703.4 106.7" stroke-width="0.8" fill="none"/>
<text x="728.8" y="99.1" font-size="5.8" font-weight="bold" text-anchor="middle" textLength="20.2" lengthAdjust="spacingAndGlyphs" stroke="#1b1b1b" stroke-width="0.32">STEPPING</text>
<text x="728.2" y="105.4" font-size="5.8" font-weight="bold" text-anchor="middle" textLength="15.2" lengthAdjust="spacingAndGlyphs" stroke="#1b1b1b" stroke-width="0.32">SWITCH</text>
<path d="M718 100.2 Q713 102 710.2 107.6" stroke-width="0.8" fill="none"/>
<path d="M697 106.7 L710.2 106.7 L710.2 151.9 L697 151.9 Z" stroke-width="1.5499999999999998" fill="none"/>
<path d="M697 129.5 L703.5 114.7" stroke-width="1.0" fill="none"/>
<path d="M705 111.4 L704.6 115.2 L702.4 114.2 Z" stroke-width="0.4" fill="#1b1b1b"/>
<text transform="translate(708 110.7) scale(0.85 1)" font-size="3.6" font-weight="bold" text-anchor="middle" stroke="#1b1b1b" stroke-width="0.32">1</text>
<text transform="translate(708 116.3) scale(0.85 1)" font-size="3.6" font-weight="bold" text-anchor="middle" stroke="#1b1b1b" stroke-width="0.32">2</text>
<text transform="translate(708 122) scale(0.85 1)" font-size="3.6" font-weight="bold" text-anchor="middle" stroke="#1b1b1b" stroke-width="0.32">3</text>
<text transform="translate(708 127.6) scale(0.85 1)" font-size="3.6" font-weight="bold" text-anchor="middle" stroke="#1b1b1b" stroke-width="0.32">4</text>
<text transform="translate(708 133.3) scale(0.85 1)" font-size="3.6" font-weight="bold" text-anchor="middle" stroke="#1b1b1b" stroke-width="0.32">5</text>
<text transform="translate(708 138.9) scale(0.85 1)" font-size="3.6" font-weight="bold" text-anchor="middle" stroke="#1b1b1b" stroke-width="0.32">6</text>
<text transform="translate(708 144.6) scale(0.85 1)" font-size="3.6" font-weight="bold" text-anchor="middle" stroke="#1b1b1b" stroke-width="0.32">7</text>
<text transform="translate(708 150.2) scale(0.85 1)" font-size="3.6" font-weight="bold" text-anchor="middle" stroke="#1b1b1b" stroke-width="0.32">8</text>
<path d="M710.2 108.6 L737.6 108.6 L737.6 150 L736.8 150 L736.8 196" stroke-width="1.0" fill="none"/>
<path d="M710.2 111.7 L735 111.7 L735 170.1" stroke-width="1.0" fill="none"/>
<path d="M710.2 117.1 L714.8 117.1" stroke-width="0.8" fill="none"/>
<path d="M710.2 121.8 L714.8 121.8" stroke-width="0.8" fill="none"/>
<path d="M710.2 126.4 L714.8 126.4" stroke-width="0.8" fill="none"/>
<path d="M710.2 131 L714.8 131" stroke-width="0.8" fill="none"/>
<path d="M710.2 135.7 L714.8 135.7" stroke-width="0.8" fill="none"/>
<path d="M710.2 140.3 L714.8 140.3" stroke-width="0.8" fill="none"/>
<path d="M710.2 145 L714.8 145" stroke-width="0.8" fill="none"/>
<path d="M710.2 149.7 L714.8 149.7" stroke-width="0.8" fill="none"/>
<path d="M715.6 115.8 Q717.3 116 717.3 118 L717.3 148.4 Q717.3 150.4 715.6 150.6" stroke-width="0.9" fill="none"/>
<path d="M717.3 129.6 L721.6 129.6" stroke-width="0.8" fill="none"/>
<path d="M717.3 135.6 L721.6 135.6" stroke-width="0.8" fill="none"/>
<text transform="translate(727.3 124.8) scale(0.85 1)" font-size="7.0" font-weight="normal" text-anchor="middle" stroke="#1b1b1b" stroke-width="0.42">39</text>
<path d="M727.6 125.2 L726 128.2" stroke-width="0.8" fill="none"/>
<path d="M720.6 127.9 Q727.1 127.9 729.9 132.6 Q727.1 137.2 720.6 137.2 Q723.9 132.6 720.6 127.9 Z" stroke-width="1.1" fill="#fff"/>
<path d="M729.9 132.6 L731.9 132.6 L731.9 164 L716.4 164 L716.4 193.6" stroke-width="1.0" fill="none"/>
<path d="M550.2 174.8 L550.2 170.8 L731 170.8" stroke-width="1.0" fill="none"/>
<text transform="translate(676.5 185.2) scale(0.85 1)" font-size="7.0" font-weight="normal" text-anchor="middle" stroke="#1b1b1b" stroke-width="0.42">82</text>
<path d="M680.4 181.6 Q682.5 181.4 684.2 183.6" stroke-width="0.8" fill="none"/>
<path d="M690 181.5 L690 181.5 L690 195.2 L690 195.2 A6.2 6.8 0 0 1 690 181.5 Z" stroke-width="1.1" fill="#fff"/>
<path d="M690 184.2 L727.2 184.2" stroke-width="1.0" fill="none"/>
<path d="M690 191.1 L703.6 191.1 L703.6 210.7" stroke-width="1.0" fill="none"/>
<text x="708.8" y="192.1" font-size="6.6" font-weight="normal" text-anchor="middle" textLength="9.4" lengthAdjust="spacingAndGlyphs" stroke="#1b1b1b" stroke-width="0.42">162</text>
<text x="722" y="192.1" font-size="6.6" font-weight="normal" text-anchor="middle" textLength="8" lengthAdjust="spacingAndGlyphs" stroke="#1b1b1b" stroke-width="0.42">161</text>
<text x="732.3" y="192.1" font-size="6.6" font-weight="normal" text-anchor="middle" textLength="9.4" lengthAdjust="spacingAndGlyphs" stroke="#1b1b1b" stroke-width="0.42">160</text>
<path d="M713.6 189.7 L716.4 189.7" stroke-width="0.8" fill="none"/>
<path d="M716.4 164 L716.4 195.6" stroke-width="0.9" fill="none"/>
<path d="M716.4 198.4 L715.4 195.6 L717.4 195.6 Z" stroke-width="0.4" fill="#1b1b1b"/>
<path d="M726.5 170.1 L726.5 193" stroke-width="1.0" fill="none"/>
<path d="M726.5 192 L726.5 195.6" stroke-width="0.9" fill="none"/>
<path d="M726.5 198.4 L725.5 195.6 L727.5 195.6 Z" stroke-width="0.4" fill="#1b1b1b"/>
<path d="M736.8 198.4 L735.8 195.6 L737.8 195.6 Z" stroke-width="0.4" fill="#1b1b1b"/>
<text transform="translate(716.4 203.6) scale(0.72 1)" font-size="4.4" font-weight="bold" text-anchor="middle" stroke="#1b1b1b" stroke-width="0.32">H</text>
<text transform="translate(726.2 203.6) scale(0.8 1)" font-size="4.4" font-weight="bold" text-anchor="middle" stroke="#1b1b1b" stroke-width="0.32">RS</text>
<text transform="translate(736.8 203.6) scale(0.72 1)" font-size="4.4" font-weight="bold" text-anchor="middle" stroke="#1b1b1b" stroke-width="0.32">T</text>
<circle cx="716.4" cy="170.3" r="0.9" stroke-width="0.9" fill="#1b1b1b"/>
<circle cx="716.4" cy="184.2" r="0.9" stroke-width="0.9" fill="#1b1b1b"/>
<circle cx="726.5" cy="184.2" r="0.9" stroke-width="0.9" fill="#1b1b1b"/>
<path d="M662.8 170.5 L735 170.1" stroke-width="1.0" fill="none"/>
<path d="M550.2 203.1 L550.2 199.2 L560.5 199.2 L560.5 188.4 L683.8 188.4" stroke-width="1.0" fill="none"/>
<path d="M697.4 210.7 L715 210.7 L715 220.3 L697.4 220.3 Z" stroke-width="1.4500000000000002" fill="none"/>
<text transform="translate(702.2 215) scale(0.72 1)" font-size="4.0" font-weight="bold" text-anchor="middle" stroke="#1b1b1b" stroke-width="0.32">1</text>
<text transform="translate(711 215) scale(0.72 1)" font-size="4.0" font-weight="bold" text-anchor="middle" stroke="#1b1b1b" stroke-width="0.32">0</text>
<text transform="translate(705.8 219) scale(0.8 1)" font-size="4.0" font-weight="bold" text-anchor="middle" stroke="#1b1b1b" stroke-width="0.32">45</text>
<text x="725.8" y="214.1" font-size="5.8" font-weight="bold" text-anchor="middle" textLength="12" lengthAdjust="spacingAndGlyphs" stroke="#1b1b1b" stroke-width="0.32">MONO</text>
<path d="M719.2 212.6 Q717 212.4 715.4 213.6" stroke-width="0.8" fill="none"/>
<text transform="translate(723.8 223.4) scale(0.85 1)" font-size="6.6" font-weight="normal" text-anchor="middle" stroke="#1b1b1b" stroke-width="0.42">81</text>
<path d="M716 218.6 Q718.5 218.8 719.6 220.4" stroke-width="0.8" fill="none"/>
<path d="M704.3 220.3 L704.3 223 L659.6 223 L659.6 268 L656.6 268" stroke-width="1.0" fill="none"/>
<text transform="translate(605.4 196.2) scale(0.85 1)" font-size="7.0" font-weight="normal" text-anchor="middle" stroke="#1b1b1b" stroke-width="0.42">60</text>
<path d="M609.4 192.6 Q611.4 192.8 612.6 194.4" stroke-width="0.8" fill="none"/>
<path d="M619.8 193.7 Q613 193.7 610.1 199 Q613 204.3 619.8 204.3 Q616.4 199 619.8 193.7 Z" stroke-width="1.1" fill="#fff"/>
<path d="M618.6 195.7 L662.8 195.7" stroke-width="1.0" fill="none"/>
<path d="M618.6 201.2 L653.2 201.2 L653.2 364.9" stroke-width="1.0" fill="none"/>
<path d="M549.6 231.5 L549.6 226.1 L567.4 226.1 L567.4 199.1 L610.1 199.1" stroke-width="1.0" fill="none"/>
<path d="M575 171 L577.8 170 L577.8 172 Z" stroke-width="0.4" fill="#1b1b1b"/>
<path d="M575 188.4 L577.8 187.4 L577.8 189.4 Z" stroke-width="0.4" fill="#1b1b1b"/>
<path d="M578 199.1 L580.8 198.1 L580.8 200.1 Z" stroke-width="0.4" fill="#1b1b1b"/>
<path d="M571.6 238.4 L571.6 208.9 L643.6 208.9" stroke-width="1.0" fill="none"/>
<path d="M643.6 195.7 L643.6 230.3" stroke-width="1.0" fill="none"/>
<text x="582.2" y="226.3" font-size="5.8" font-weight="bold" text-anchor="middle" textLength="15.4" lengthAdjust="spacingAndGlyphs" stroke="#1b1b1b" stroke-width="0.32">SWITCH</text>
<text transform="translate(581.6 234.5) scale(0.85 1)" font-size="7.0" font-weight="normal" text-anchor="middle" stroke="#1b1b1b" stroke-width="0.42">46</text>
<path d="M590.2 222.6 Q592.6 228 588.2 236.8" stroke-width="0.8" fill="none"/>
<path d="M585.6 234.5 L586.6 238.4" stroke-width="0.8" fill="none"/>
<path d="M573.9 238.4 L589.4 238.4 L589.4 261.5 L573.9 261.5 Z" stroke-width="1.5499999999999998" fill="none"/>
<path d="M572.6 238.4 L572.6 256" stroke-width="1.6" fill="none"/>
<text transform="translate(575.4 241.6) scale(0.85 1)" font-size="3.8" font-weight="bold" text-anchor="middle" stroke="#1b1b1b" stroke-width="0.32">0</text>
<text transform="translate(575.4 245.4) scale(0.85 1)" font-size="3.8" font-weight="bold" text-anchor="middle" stroke="#1b1b1b" stroke-width="0.32">1</text>
<text transform="translate(575.4 249.6) scale(0.85 1)" font-size="3.8" font-weight="bold" text-anchor="middle" stroke="#1b1b1b" stroke-width="0.32">2</text>
<text transform="translate(575.4 253.9) scale(0.85 1)" font-size="3.8" font-weight="bold" text-anchor="middle" stroke="#1b1b1b" stroke-width="0.32">3</text>
<path d="M589.4 249.2 L578.4 241.6" stroke-width="1.0" fill="none"/>
<path d="M575.8 239.8 L579.1 240.7 L577.8 242.5 Z" stroke-width="0.4" fill="#1b1b1b"/>
<path d="M572 240.2 L560.7 240.2 L560.7 241.3" stroke-width="1.0" fill="none"/>
<path d="M572 244 L562.7 244 L562.7 352.8 L620.4 352.8 L620.4 379.2" stroke-width="1.0" fill="none"/>
<path d="M572 248.2 L565.3 248.2 L565.3 342" stroke-width="1.0" fill="none"/>
<path d="M572 252.5 L568.6 252.5 L568.6 380.1 L550.2 380.1 L550.2 383" stroke-width="1.0" fill="none"/>
<path d="M568.6 349.6 L616.7 349.6 L616.7 352.8" stroke-width="1.0" fill="none"/>
<path d="M570.6 240.2 L568.2 241.1 L568.2 239.3 Z" stroke-width="0.4" fill="#1b1b1b"/>
<path d="M570.6 244 L568.2 244.9 L568.2 243.1 Z" stroke-width="0.4" fill="#1b1b1b"/>
<path d="M589.4 249.2 L603.8 249.2" stroke-width="1.0" fill="none"/>
<path d="M603.8 240.7 L603.8 240.7 L603.8 253.8 L603.8 253.8 A5.8 6.6 0 0 0 603.8 240.7 Z" stroke-width="1.1" fill="#fff"/>
<path d="M609.6 246.9 L618.2 246.9" stroke-width="1.0" fill="none"/>
<text transform="translate(599.4 260.2) scale(0.85 1)" font-size="6.8" font-weight="normal" text-anchor="middle" stroke="#1b1b1b" stroke-width="0.42">87</text>
<path d="M603 257 Q606 256.6 607.6 253.6" stroke-width="0.8" fill="none"/>
<text x="603.8" y="266.7" font-size="5.8" font-weight="bold" text-anchor="middle" textLength="17.6" lengthAdjust="spacingAndGlyphs" stroke="#1b1b1b" stroke-width="0.32">DECODER</text>
<text transform="translate(612.6 233.9) scale(0.85 1)" font-size="7.0" font-weight="normal" text-anchor="middle" stroke="#1b1b1b" stroke-width="0.42">49</text>
<path d="M615.6 234 L618.6 236.6" stroke-width="0.8" fill="none"/>
<path d="M618.2 230.3 L647.1 230.3 L647.1 259.3 L618.2 259.3 Z" stroke-width="1.5499999999999998" fill="none"/>
<path d="M620.8 230.3 L620.8 220.6" stroke-width="0.9" fill="none"/>
<path d="M620.8 218 L621.8 220.6 L619.8 220.6 Z" stroke-width="0.4" fill="#1b1b1b"/>
<text transform="translate(619.6 216.4) scale(0.78 1)" font-size="4.6" font-weight="bold" text-anchor="middle" stroke="#1b1b1b" stroke-width="0.32">RG</text>
<path d="M628.6 230.3 L628.6 220.6" stroke-width="0.9" fill="none"/>
<path d="M628.6 218 L629.6 220.6 L627.6 220.6 Z" stroke-width="0.4" fill="#1b1b1b"/>
<text transform="translate(628.2 216.4) scale(0.78 1)" font-size="4.6" font-weight="bold" text-anchor="middle" stroke="#1b1b1b" stroke-width="0.32">T</text>
<path d="M636.6 230.3 L636.6 220.6" stroke-width="0.9" fill="none"/>
<path d="M636.6 218 L637.6 220.6 L635.6 220.6 Z" stroke-width="0.4" fill="#1b1b1b"/>
<text transform="translate(636.4 216.4) scale(0.78 1)" font-size="4.6" font-weight="bold" text-anchor="middle" stroke="#1b1b1b" stroke-width="0.32">H</text>
<text transform="translate(621.6 235.1) scale(0.75 1)" font-size="3.8" font-weight="bold" text-anchor="middle" stroke="#1b1b1b" stroke-width="0.32">RG</text>
<text transform="translate(628.6 235.1) scale(0.72 1)" font-size="3.8" font-weight="bold" text-anchor="middle" stroke="#1b1b1b" stroke-width="0.32">T</text>
<text transform="translate(636.4 235.1) scale(0.72 1)" font-size="3.8" font-weight="bold" text-anchor="middle" stroke="#1b1b1b" stroke-width="0.32">H</text>
<text transform="translate(642.8 235.1) scale(0.7 1)" font-size="3.8" font-weight="bold" text-anchor="middle" stroke="#1b1b1b" stroke-width="0.32">RM</text>
<text x="628" y="247.9" font-size="5.0" font-weight="bold" text-anchor="middle" textLength="13" lengthAdjust="spacingAndGlyphs" stroke="#1b1b1b" stroke-width="0.32">A. S/S</text>
<text transform="translate(623.2 257.8) scale(0.8 1)" font-size="4.4" font-weight="bold" text-anchor="middle" stroke="#1b1b1b" stroke-width="0.32">C/D</text>
<text transform="translate(639.6 257.8) scale(0.8 1)" font-size="4.4" font-weight="bold" text-anchor="middle" stroke="#1b1b1b" stroke-width="0.32">DZ</text>
<path d="M647.1 234.4 L683 234.4" stroke-width="1.0" fill="none"/>
<path d="M647.1 236.9 L683 236.9" stroke-width="1.0" fill="none"/>
<path d="M647.1 239.4 L683 239.4" stroke-width="1.0" fill="none"/>
<path d="M647.1 241.9 L683 241.9" stroke-width="1.0" fill="none"/>
<path d="M647.1 244.4 L683 244.4" stroke-width="1.0" fill="none"/>
<path d="M647.1 246.9 L683 246.9" stroke-width="1.0" fill="none"/>
<path d="M647.1 249.4 L683 249.4" stroke-width="1.0" fill="none"/>
<path d="M647.1 251.9 L683 251.9" stroke-width="1.0" fill="none"/>
<path d="M647.1 254.4 L683 254.4" stroke-width="1.0" fill="none"/>
<path d="M647.1 256.9 L683 256.9" stroke-width="1.0" fill="none"/>
<path d="M683 227.1 L694.2 227.1 L694.2 262.2 L683 262.2 Z" stroke-width="1.5499999999999998" fill="none"/>
<text transform="translate(704.4 235.9) scale(0.85 1)" font-size="7.0" font-weight="normal" text-anchor="middle" stroke="#1b1b1b" stroke-width="0.42">69</text>
<path d="M690.6 234.3 L698.6 234.3" stroke-width="0.8" fill="none"/>
<text x="710.4" y="243.5" font-size="5.8" font-weight="bold" text-anchor="middle" textLength="18.5" lengthAdjust="spacingAndGlyphs" stroke="#1b1b1b" stroke-width="0.32">DISPLAY</text>
<path d="M694.2 243.6 Q697 243.6 700.6 241.8" stroke-width="0.8" fill="none"/>
<path d="M662.6 244.4 L665 247.2 L665 276.5 L675.4 279.6" stroke-width="0.85" fill="none"/>
<path d="M664.1 245.9 L666.5 248.7 L666.5 275.6 L675.9 278.5" stroke-width="0.85" fill="none"/>
<path d="M665.6 247.4 L668 250.2 L668 274.7 L676.5 277.4" stroke-width="0.85" fill="none"/>
<path d="M667.1 248.9 L669.6 251.7 L669.6 273.8 L677 276.3" stroke-width="0.85" fill="none"/>
<path d="M668.6 250.4 L671.1 253.2 L671.1 272.9 L677.6 275.2" stroke-width="0.85" fill="none"/>
<path d="M670.1 251.9 L672.6 254.7 L672.6 272 L678.1 274.1" stroke-width="0.85" fill="none"/>
<path d="M671.6 253.4 L674.1 256.2 L674.1 271.1 L678.7 273" stroke-width="0.85" fill="none"/>
<path d="M673.1 254.9 L675.6 257.7 L675.6 270.2 L679.2 271.9" stroke-width="0.85" fill="none"/>
<path d="M679.7 271.4 L689.8 271.4 L694.6 280.3 L689 288.4 L678.2 288.4 L675 280.3 Z" stroke-width="1.2" fill="#fff"/>
<text transform="translate(680 281.3) scale(0.85 1)" font-size="6.4" font-weight="normal" text-anchor="middle" stroke="#1b1b1b" stroke-width="0.3">X</text>
<text transform="translate(687.6 281.3) scale(0.85 1)" font-size="6.4" font-weight="normal" text-anchor="middle" stroke="#1b1b1b" stroke-width="0.3">Y</text>
<text transform="translate(683.8 287.8) scale(0.9 1)" font-size="3.8" font-weight="bold" text-anchor="middle" stroke="#1b1b1b" stroke-width="0.32">&lt;=&gt;</text>
<text x="693.6" y="269.8" font-size="6.8" font-weight="normal" text-anchor="middle" textLength="9.6" lengthAdjust="spacingAndGlyphs" stroke="#1b1b1b" stroke-width="0.42">110</text>
<path d="M689.6 268.4 L686.6 272" stroke-width="0.8" fill="none"/>
<path d="M679.4 288.4 L679.4 293.2" stroke-width="0.8" fill="none"/>
<path d="M684.2 288.4 L684.2 293.2" stroke-width="0.8" fill="none"/>
<path d="M688.4 288.4 L688.4 296.8 L662 296.8 L662 341.7" stroke-width="1.0" fill="none"/>
<path d="M711.6 262.2 L739.4 262.2 L739.4 292.9 L711.6 292.9 Z" stroke-width="1.75" fill="none"/>
<circle cx="716.2" cy="266.9" r="2.8" stroke-width="0.9" fill="none"/>
<text transform="translate(716.2 268.4) scale(0.9 1)" font-size="4.2" font-weight="bold" text-anchor="middle" stroke="#1b1b1b" stroke-width="0.32">1</text>
<circle cx="725.3" cy="266.9" r="2.8" stroke-width="0.9" fill="none"/>
<text transform="translate(725.3 268.4) scale(0.9 1)" font-size="4.2" font-weight="bold" text-anchor="middle" stroke="#1b1b1b" stroke-width="0.32">2</text>
<circle cx="734" cy="266.9" r="2.8" stroke-width="0.9" fill="none"/>
<text transform="translate(734 268.4) scale(0.9 1)" font-size="4.2" font-weight="bold" text-anchor="middle" stroke="#1b1b1b" stroke-width="0.32">3</text>
<circle cx="716.2" cy="273.8" r="2.8" stroke-width="0.9" fill="none"/>
<text transform="translate(716.2 275.3) scale(0.9 1)" font-size="4.2" font-weight="bold" text-anchor="middle" stroke="#1b1b1b" stroke-width="0.32">4</text>
<circle cx="725.3" cy="273.8" r="2.8" stroke-width="0.9" fill="none"/>
<text transform="translate(725.3 275.3) scale(0.9 1)" font-size="4.2" font-weight="bold" text-anchor="middle" stroke="#1b1b1b" stroke-width="0.32">5</text>
<circle cx="734" cy="273.8" r="2.8" stroke-width="0.9" fill="none"/>
<text transform="translate(734 275.3) scale(0.9 1)" font-size="4.2" font-weight="bold" text-anchor="middle" stroke="#1b1b1b" stroke-width="0.32">6</text>
<circle cx="716.2" cy="280.8" r="2.8" stroke-width="0.9" fill="none"/>
<text transform="translate(716.2 282.3) scale(0.9 1)" font-size="4.2" font-weight="bold" text-anchor="middle" stroke="#1b1b1b" stroke-width="0.32">7</text>
<circle cx="725.3" cy="280.8" r="2.8" stroke-width="0.9" fill="none"/>
<text transform="translate(725.3 282.3) scale(0.9 1)" font-size="4.2" font-weight="bold" text-anchor="middle" stroke="#1b1b1b" stroke-width="0.32">8</text>
<circle cx="734" cy="280.8" r="2.8" stroke-width="0.9" fill="none"/>
<text transform="translate(734 282.3) scale(0.9 1)" font-size="4.2" font-weight="bold" text-anchor="middle" stroke="#1b1b1b" stroke-width="0.32">9</text>
<circle cx="725.6" cy="287.9" r="2.8" stroke-width="0.9" fill="none"/>
<text transform="translate(725.6 289.4) scale(0.9 1)" font-size="4.2" font-weight="bold" text-anchor="middle" stroke="#1b1b1b" stroke-width="0.32">0</text>
<text transform="translate(732.2 258.1) scale(0.85 1)" font-size="7.0" font-weight="normal" text-anchor="middle" stroke="#1b1b1b" stroke-width="0.42">63</text>
<path d="M727.6 257.6 L723.7 262.2" stroke-width="0.8" fill="none"/>
<text x="749.3" y="298.9" font-size="5.8" font-weight="bold" text-anchor="middle" textLength="18.3" lengthAdjust="spacingAndGlyphs" stroke="#1b1b1b" stroke-width="0.32">DECIMAL</text>
<text x="750.5" y="305.1" font-size="5.8" font-weight="bold" text-anchor="middle" textLength="22" lengthAdjust="spacingAndGlyphs" stroke="#1b1b1b" stroke-width="0.32">KEYBOARD</text>
<path d="M733.6 292.9 Q736 296.6 739.4 298.4" stroke-width="0.8" fill="none"/>
<path d="M690 272.6 L711.6 272.6" stroke-width="0.7" fill="none"/>
<path d="M690.8 274 L711.6 274" stroke-width="0.7" fill="none"/>
<path d="M691.5 275.3 L711.6 275.3" stroke-width="0.7" fill="none"/>
<path d="M692.2 276.7 L711.6 276.7" stroke-width="0.7" fill="none"/>
<path d="M693 278 L711.6 278" stroke-width="0.7" fill="none"/>
<path d="M693.8 279.4 L711.6 279.4" stroke-width="0.7" fill="none"/>
<path d="M694.5 280.7 L711.6 280.7" stroke-width="0.7" fill="none"/>
<path d="M695.2 282.1 L711.6 282.1" stroke-width="0.7" fill="none"/>
<path d="M696.4 273 L696.4 296.5 L670.9 296.5 L670.9 310.7" stroke-width="0.7" fill="none"/>
<path d="M697.9 274.3 L697.9 298.2 L676.6 298.2 L676.6 310.7" stroke-width="0.7" fill="none"/>
<path d="M699.5 275.6 L699.5 300 L682.3 300 L682.3 310.7" stroke-width="0.7" fill="none"/>
<path d="M701 276.9 L701 301.8 L688 301.8 L688 310.7" stroke-width="0.7" fill="none"/>
<path d="M702.6 278.2 L702.6 303.5 L693.7 303.5 L693.7 310.7" stroke-width="0.7" fill="none"/>
<path d="M704.1 279.5 L704.1 305.2 L699.4 305.2 L699.4 310.7" stroke-width="0.7" fill="none"/>
<path d="M705.7 280.8 L705.7 307 L705.1 307 L705.1 310.7" stroke-width="0.7" fill="none"/>
<path d="M707.2 282.1 L707.2 308.8 L710.8 308.8 L710.8 310.7" stroke-width="0.7" fill="none"/>
<circle cx="708.2" cy="273.6" r="1" stroke-width="0.9" fill="#1b1b1b"/>
<path d="M666.7 310.7 L713.8 310.7 L713.8 323.8 L666.7 323.8 Z" stroke-width="1.5499999999999998" fill="none"/>
<text transform="translate(670.9 315.9) scale(0.85 1)" font-size="4.2" font-weight="bold" text-anchor="middle" stroke="#1b1b1b" stroke-width="0.32">0</text>
<text transform="translate(676.6 315.9) scale(0.85 1)" font-size="4.2" font-weight="bold" text-anchor="middle" stroke="#1b1b1b" stroke-width="0.32">1</text>
<text transform="translate(682.5 315.9) scale(0.85 1)" font-size="4.2" font-weight="bold" text-anchor="middle" stroke="#1b1b1b" stroke-width="0.32">2</text>
<text transform="translate(688.5 315.9) scale(0.85 1)" font-size="4.2" font-weight="bold" text-anchor="middle" stroke="#1b1b1b" stroke-width="0.32">3</text>
<text transform="translate(694.1 315.9) scale(0.85 1)" font-size="4.2" font-weight="bold" text-anchor="middle" stroke="#1b1b1b" stroke-width="0.32">4</text>
<text transform="translate(699.7 315.9) scale(0.85 1)" font-size="4.2" font-weight="bold" text-anchor="middle" stroke="#1b1b1b" stroke-width="0.32">5</text>
<text transform="translate(705.4 315.9) scale(0.85 1)" font-size="4.2" font-weight="bold" text-anchor="middle" stroke="#1b1b1b" stroke-width="0.32">6</text>
<text transform="translate(710.8 315.9) scale(0.85 1)" font-size="4.2" font-weight="bold" text-anchor="middle" stroke="#1b1b1b" stroke-width="0.32">7</text>
<path d="M671.6 315.8 L691.8 323.6" stroke-width="0.9" fill="none"/>
<text x="718.2" y="307" font-size="6.6" font-weight="normal" text-anchor="middle" textLength="9" lengthAdjust="spacingAndGlyphs" stroke="#1b1b1b" stroke-width="0.42">116</text>
<text x="731.8" y="307" font-size="6.6" font-weight="normal" text-anchor="middle" textLength="9" lengthAdjust="spacingAndGlyphs" stroke="#1b1b1b" stroke-width="0.42">115</text>
<path d="M716 307.4 L713.6 310.7" stroke-width="0.8" fill="none"/>
<path d="M727.8 307 L727.4 310.2" stroke-width="0.8" fill="none"/>
<path d="M725.6 310.2 L733.6 310.2 L733.6 323.5 L725.6 323.5 Z" stroke-width="1.4500000000000002" fill="none"/>
<text transform="translate(729.6 318.1) scale(0.72 1)" font-size="4.2" font-weight="bold" text-anchor="middle" stroke="#1b1b1b" stroke-width="0.32">3</text>
<path d="M713.8 314.6 L725.6 314.6" stroke-width="0.8" fill="none"/>
<path d="M713.8 318.4 L725.6 318.4" stroke-width="0.8" fill="none"/>
<path d="M713.8 320.8 L725.6 320.8" stroke-width="0.8" fill="none"/>
<path d="M718 314.6 L718 330" stroke-width="0.8" fill="none"/>
<path d="M720.4 318.4 L720.4 330" stroke-width="0.8" fill="none"/>
<path d="M722.8 320.8 L722.8 330" stroke-width="0.8" fill="none"/>
<path d="M733.6 312.8 L737.6 312.8" stroke-width="0.8" fill="none"/>
<path d="M733.6 318.4 L738.4 318.4" stroke-width="0.8" fill="none"/>
<path d="M733.6 322 L736 322 L736 326" stroke-width="0.8" fill="none"/>
<text transform="translate(738.6 311.1) scale(0.72 1)" font-size="3.6" font-weight="bold" text-anchor="middle" stroke="#1b1b1b" stroke-width="0.32">H</text>
<text x="749" y="320.6" font-size="5.8" font-weight="bold" text-anchor="middle" textLength="19" lengthAdjust="spacingAndGlyphs" stroke="#1b1b1b" stroke-width="0.32">COUNTER</text>
<text x="732.3" y="334.7" font-size="5.8" font-weight="bold" text-anchor="middle" textLength="14.6" lengthAdjust="spacingAndGlyphs" stroke="#1b1b1b" stroke-width="0.32">SWITCH</text>
<path d="M724.8 331 L712.6 322.4" stroke-width="0.8" fill="none"/>
<path d="M575 271.5 L584.3 271.5 L584.3 287.8 L575 287.8 Z" stroke-width="1.5499999999999998" fill="none"/>
<text transform="translate(579.4 281.5) scale(0.72 1)" font-size="4.6" font-weight="bold" text-anchor="middle" stroke="#1b1b1b" stroke-width="0.32">2</text>
<text transform="translate(580.6 298.1) scale(0.85 1)" font-size="7.0" font-weight="normal" text-anchor="middle" stroke="#1b1b1b" stroke-width="0.42">47</text>
<text x="587.2" y="303.7" font-size="5.8" font-weight="bold" text-anchor="middle" textLength="19.3" lengthAdjust="spacingAndGlyphs" stroke="#1b1b1b" stroke-width="0.32">COUNTER</text>
<path d="M588.4 298.5 Q586.8 293 584.4 288.2" stroke-width="0.8" fill="none"/>
<path d="M596.3 268.6 L608.5 268.6 L608.5 290.8 L596.3 290.8 Z" stroke-width="1.5499999999999998" fill="none"/>
<text transform="translate(605.8 272.8) scale(0.85 1)" font-size="3.8" font-weight="bold" text-anchor="middle" stroke="#1b1b1b" stroke-width="0.32">0</text>
<text transform="translate(605.8 276.7) scale(0.85 1)" font-size="3.8" font-weight="bold" text-anchor="middle" stroke="#1b1b1b" stroke-width="0.32">1</text>
<text transform="translate(605.8 282.8) scale(0.85 1)" font-size="3.8" font-weight="bold" text-anchor="middle" stroke="#1b1b1b" stroke-width="0.32">2</text>
<text transform="translate(605.8 288.5) scale(0.85 1)" font-size="3.8" font-weight="bold" text-anchor="middle" stroke="#1b1b1b" stroke-width="0.32">3</text>
<text transform="translate(601.2 298.2) scale(0.85 1)" font-size="7.0" font-weight="normal" text-anchor="middle" stroke="#1b1b1b" stroke-width="0.42">48</text>
<path d="M584.3 276.5 L596.3 276.5" stroke-width="1.0" fill="none"/>
<path d="M584.3 282.8 L596.3 282.8" stroke-width="1.0" fill="none"/>
<path d="M578.4 261.5 L578.4 267.4 L588.6 267.4 L588.6 276.5" stroke-width="1.0" fill="none"/>
<path d="M585.8 261.5 L585.8 264.8 L593.2 264.8 L593.2 282.8" stroke-width="1.0" fill="none"/>
<path d="M575 276.5 L572.8 276.5 L572.8 282.8" stroke-width="1.0" fill="none"/>
<path d="M550.2 289.1 L550.2 282.8 L575 282.8" stroke-width="1.0" fill="none"/>
<path d="M608.5 271.4 L622.6 271.4 L622.6 268.4" stroke-width="1.0" fill="none"/>
<path d="M608.5 275.3 L631.7 275.3" stroke-width="1.0" fill="none"/>
<path d="M608.5 281.4 L614.8 281.4 L614.8 321.9 L583 321.9 L583 377.8 L598.4 377.8" stroke-width="1.0" fill="none"/>
<path d="M608.5 287.1 L611.6 287.1 L611.6 359" stroke-width="1.0" fill="none"/>
<path d="M609.6 246.9 L614.8 246.9 L614.8 262" stroke-width="1.0" fill="none"/>
<path d="M618.4 271.4 L616 272.3 L616 270.5 Z" stroke-width="0.4" fill="#1b1b1b"/>
<path d="M618.4 275.3 L616 276.2 L616 274.4 Z" stroke-width="0.4" fill="#1b1b1b"/>
<path d="M620.9 268.8 Q620.9 264.2 624.5 262.3 Q628 264.2 628 268.8 Q624.5 266.5 620.9 268.8 Z" stroke-width="1.0" fill="#fff"/>
<path d="M624.4 259.3 L624.4 262.5" stroke-width="1.0" fill="none"/>
<path d="M626.4 268 L626.4 275.3" stroke-width="1.0" fill="none"/>
<text transform="translate(633.4 267.9) scale(0.85 1)" font-size="6.4" font-weight="normal" text-anchor="middle" stroke="#1b1b1b" stroke-width="0.42">52</text>
<path d="M631.7 272.3 L631.7 272.3 L631.7 284.5 L631.7 284.5 A5.5 6.1 0 0 0 631.7 272.3 Z" stroke-width="1.1" fill="#fff"/>
<text transform="translate(645.6 276.2) scale(0.85 1)" font-size="7.0" font-weight="normal" text-anchor="middle" stroke="#1b1b1b" stroke-width="0.42">59</text>
<path d="M638.2 274.2 L641.6 274.2" stroke-width="0.8" fill="none"/>
<path d="M637.2 278.3 L640.2 278.3 L640.2 296.4" stroke-width="1.0" fill="none"/>
<path d="M625.6 281.6 L631.7 281.6" stroke-width="1.0" fill="none"/>
<path d="M654.1 278.3 L643.6 278.3 L643.6 296.4" stroke-width="1.0" fill="none"/>
<path d="M647 278.3 L649.6 277.4 L649.6 279.2 Z" stroke-width="0.4" fill="#1b1b1b"/>
<path d="M643.4 283 L654.1 283 L654.1 259.3" stroke-width="1.0" fill="none"/>
<path d="M638.6 295.6 Q638.6 302.3 643.7 305.2 Q648.8 302.3 648.8 295.6 Q643.7 299 638.6 295.6 Z" stroke-width="1.1" fill="#fff"/>
<text x="634.5" y="307.2" font-size="6.2" font-weight="normal" text-anchor="middle" textLength="9" lengthAdjust="spacingAndGlyphs" stroke="#1b1b1b" stroke-width="0.42">108</text>
<path d="M643.6 305.2 L643.6 327.6 L691.8 327.6 L691.8 323.6" stroke-width="1.0" fill="none"/>
<path d="M643.6 319.5 L642.7 316.9 L644.5 316.9 Z" stroke-width="0.4" fill="#1b1b1b"/>
<path d="M643.6 309 L573 309 L573 386.2 L598.4 386.2" stroke-width="1.0" fill="none"/>
<path d="M550.2 361.8 L550.2 359.5 L573 359.5" stroke-width="1.0" fill="none"/>
<path d="M550.2 317.4 L550.2 313.6 L623 313.6" stroke-width="1.0" fill="none"/>
<path d="M595 309.2 L597.8 308.2 L597.8 310.2 Z" stroke-width="0.4" fill="#1b1b1b"/>
<path d="M613.4 325.2 L613.4 325 L627.5 325 L627.5 325.2 A7.1 7.1 0 0 1 613.4 325.2 Z" stroke-width="1.1" fill="#fff"/>
<text x="604.2" y="334" font-size="6.4" font-weight="normal" text-anchor="middle" textLength="9.6" lengthAdjust="spacingAndGlyphs" stroke="#1b1b1b" stroke-width="0.42">109</text>
<path d="M608.6 334.2 Q611.2 333.8 613.8 330.4" stroke-width="0.8" fill="none"/>
<path d="M617.7 325 L617.7 262" stroke-width="1.0" fill="none"/>
<path d="M620.4 325 L620.4 268" stroke-width="1.0" fill="none"/>
<path d="M623 325 L623 290.3 L651.3 290.3 L651.3 338.1 L620.9 338.1 L620.9 332.3" stroke-width="1.0" fill="none"/>
<path d="M620.9 333 L621.8 335.4 L620 335.4 Z" stroke-width="0.4" fill="#1b1b1b"/>
<path d="M629.2 290.3 L629.2 341.7 L680 341.7" stroke-width="1.0" fill="none"/>
<path d="M640.6 350.2 L640.6 350.2 L640.6 362.7 L640.6 362.7 A6.2 6.2 0 0 1 640.6 350.2 Z" stroke-width="1.1" fill="#fff"/>
<text transform="translate(627 362.7) scale(0.85 1)" font-size="4.6" font-weight="bold" text-anchor="middle" stroke="#1b1b1b" stroke-width="0.32">25</text>
<path d="M629.6 360.6 L634.4 360" stroke-width="0.8" fill="none"/>
<path d="M634.4 355.4 L625 355.4 L625 346.2 L649.2 346.2 L649.2 341.7" stroke-width="1.0" fill="none"/>
<path d="M633 356.2 L630.8 357 L630.8 355.4 Z" stroke-width="0.4" fill="#1b1b1b"/>
<path d="M640.6 353.4 L649.2 353.4 L649.2 346.2" stroke-width="1.0" fill="none"/>
<path d="M640.6 359.2 L646.8 359.2 L646.8 368.4" stroke-width="1.0" fill="none"/>
<path d="M643.6 367.8 Q643.6 373.5 650.2 375.9 Q656.9 373.5 656.9 367.8 Q650.2 370.6 643.6 367.8 Z" stroke-width="1.1" fill="#fff"/>
<text x="638.2" y="376.5" font-size="6.2" font-weight="normal" text-anchor="middle" textLength="9" lengthAdjust="spacingAndGlyphs" stroke="#1b1b1b" stroke-width="0.42">112</text>
<path d="M642 374.6 L644.6 373.6" stroke-width="0.8" fill="none"/>
<path d="M650.6 375.9 L650.6 379.2 L620.4 379.2" stroke-width="1.0" fill="none"/>
<path d="M653.6 368.6 L653.6 362 L661 362" stroke-width="1.0" fill="none"/>
<path d="M650.4 368.4 L650.4 364.5" stroke-width="1.0" fill="none"/>
<text x="576.4" y="366.5" font-size="6.4" font-weight="normal" text-anchor="middle" textLength="5.4" lengthAdjust="spacingAndGlyphs" stroke="#1b1b1b" stroke-width="0.42">91</text>
<path d="M577.5 367.2 Q578.6 369.4 580.4 369.8" stroke-width="0.8" fill="none"/>
<text x="593.8" y="364.5" font-size="6.4" font-weight="normal" text-anchor="middle" textLength="9.2" lengthAdjust="spacingAndGlyphs" stroke="#1b1b1b" stroke-width="0.42">190</text>
<text transform="translate(606.6 364.5) scale(0.85 1)" font-size="6.4" font-weight="normal" text-anchor="middle" stroke="#1b1b1b" stroke-width="0.42">95</text>
<path d="M598.4 367.3 L611.9 367.3 L611.9 389.6 L598.4 389.6 Z" stroke-width="1.9500000000000002" fill="none"/>
<text x="605" y="379" font-size="4.4" font-weight="bold" text-anchor="middle" textLength="7.8" lengthAdjust="spacingAndGlyphs" stroke="#1b1b1b" stroke-width="0.32">EMR</text>
<path d="M590 365 L590 371.2 L598.4 371.2" stroke-width="1.0" fill="none"/>
<text transform="translate(577.4 394.3) scale(0.85 1)" font-size="7.0" font-weight="normal" text-anchor="middle" stroke="#1b1b1b" stroke-width="0.42">92</text>
<path d="M595.9 371.2 L595.9 391.3 L639.3 391.3" stroke-width="1.0" fill="none"/>
<path d="M592.5 378.2 L592.5 398.3 L639.3 398.3" stroke-width="1.0" fill="none"/>
<path d="M588.6 385.4 L588.6 405.3 L639.3 405.3" stroke-width="1.0" fill="none"/>
<path d="M639.3 388.5 L652.9 388.5 L652.9 408 L639.3 408 Z" stroke-width="1.75" fill="none"/>
<text x="646" y="399.4" font-size="4.2" font-weight="bold" text-anchor="middle" textLength="6.8" lengthAdjust="spacingAndGlyphs" stroke="#1b1b1b" stroke-width="0.32">IMP</text>
<text transform="translate(659 399.3) scale(0.85 1)" font-size="7.0" font-weight="normal" text-anchor="middle" stroke="#1b1b1b" stroke-width="0.42">96</text>
<path d="M652.9 393.5 Q655 393 655.6 396.4" stroke-width="0.8" fill="none"/>
<text transform="translate(670.8 390.8) scale(0.85 1)" font-size="7.0" font-weight="normal" text-anchor="middle" stroke="#1b1b1b" stroke-width="0.42">93</text>
<path d="M664.6 392.6 L667.8 392.6 L667.8 390.4" stroke-width="0.8" fill="none"/>
<text x="633" y="417.1" font-size="5.8" font-weight="bold" text-anchor="middle" textLength="18.3" lengthAdjust="spacingAndGlyphs" stroke="#1b1b1b" stroke-width="0.32">DISPLAY</text>
<path d="M643.6 413.2 Q646 411.6 646.8 408.2" stroke-width="0.8" fill="none"/>
<path d="M617.3 365 L617.3 381.8 L682.5 381.8" stroke-width="1.0" fill="none"/>
<path d="M665.3 341.7 L665.3 409.1 L714.5 409.1 L714.5 402.5" stroke-width="1.0" fill="none"/>
<path d="M615 364.9 L653 364.9" stroke-width="1.0" fill="none"/>
<circle cx="611.6" cy="359" r="0.9" stroke-width="0.9" fill="#1b1b1b"/>
<path d="M611.6 359 L615 359 L615 364.9" stroke-width="1.0" fill="none"/>
<path d="M682.9 338.6 L697.2 338.6 L697.2 351.3 L682.9 351.3 Z" stroke-width="1.5499999999999998" fill="none"/>
<text x="691.8" y="346.7" font-size="5.0" font-weight="bold" text-anchor="middle" textLength="8.6" lengthAdjust="spacingAndGlyphs" stroke="#1b1b1b" stroke-width="0.32">DES</text>
<text transform="translate(685.5 342.6) scale(0.72 1)" font-size="3.2" font-weight="bold" text-anchor="middle" stroke="#1b1b1b" stroke-width="0.32">0</text>
<text transform="translate(685 349.8) scale(0.72 1)" font-size="3.2" font-weight="bold" text-anchor="middle" stroke="#1b1b1b" stroke-width="0.32">1</text>
<text x="676.6" y="351.3" font-size="6.4" font-weight="normal" text-anchor="middle" textLength="9.4" lengthAdjust="spacingAndGlyphs" stroke="#1b1b1b" stroke-width="0.42">140</text>
<path d="M697.2 347.9 L704.1 347.9 L704.1 332 L715.7 332 L715.7 323.8" stroke-width="1.0" fill="none"/>
<path d="M682.9 341.4 L668.5 341.4 L668.5 332 L688.6 332 L688.6 323.8" stroke-width="1.0" fill="none"/>
<path d="M716.1 330 L716.1 353.6 L685.5 353.6 L685.5 359.8" stroke-width="0.8" fill="none"/>
<path d="M718.8 330 L718.8 355.4 L687.2 355.4 L687.2 359.8" stroke-width="0.8" fill="none"/>
<path d="M721.6 323.8 L721.6 357.2 L689 357.2 L689 359.8" stroke-width="0.8" fill="none"/>
<path d="M682.5 359.8 L697.4 359.8 L697.4 403.7 L682.5 403.7 Z" stroke-width="1.5499999999999998" fill="none"/>
<text x="674.6" y="372.5" font-size="6.4" font-weight="normal" text-anchor="middle" textLength="8.6" lengthAdjust="spacingAndGlyphs" stroke="#1b1b1b" stroke-width="0.42">113</text>
<path d="M679.4 370.2 L682.5 370.2" stroke-width="0.8" fill="none"/>
<path d="M682.5 381.5 L694.1 364.6" stroke-width="1.0" fill="none"/>
<path d="M696 361.8 L695 365.2 L693.2 364 Z" stroke-width="0.4" fill="#1b1b1b"/>
<text transform="translate(695 366) scale(0.85 1)" font-size="3.8" font-weight="bold" text-anchor="middle" stroke="#1b1b1b" stroke-width="0.32">1</text>
<text transform="translate(695 373.8) scale(0.85 1)" font-size="3.8" font-weight="bold" text-anchor="middle" stroke="#1b1b1b" stroke-width="0.32">2</text>
<text transform="translate(695 380) scale(0.85 1)" font-size="3.8" font-weight="bold" text-anchor="middle" stroke="#1b1b1b" stroke-width="0.32">3</text>
<text transform="translate(695 385.8) scale(0.85 1)" font-size="3.8" font-weight="bold" text-anchor="middle" stroke="#1b1b1b" stroke-width="0.32">4</text>
<text transform="translate(695 391.2) scale(0.85 1)" font-size="3.8" font-weight="bold" text-anchor="middle" stroke="#1b1b1b" stroke-width="0.32">5</text>
<text transform="translate(695 396.6) scale(0.85 1)" font-size="3.8" font-weight="bold" text-anchor="middle" stroke="#1b1b1b" stroke-width="0.32">6</text>
<text transform="translate(695 401.7) scale(0.85 1)" font-size="3.8" font-weight="bold" text-anchor="middle" stroke="#1b1b1b" stroke-width="0.32">7</text>
<path d="M697.4 361.9 L711.3 361.9" stroke-width="0.8" fill="none"/>
<path d="M697.4 367.4 L711.3 367.4" stroke-width="0.8" fill="none"/>
<path d="M697.4 373 L711.3 373" stroke-width="0.8" fill="none"/>
<path d="M697.4 379.2 L711.3 379.2" stroke-width="0.8" fill="none"/>
<path d="M697.4 384.8 L711.3 384.8" stroke-width="0.8" fill="none"/>
<path d="M697.4 390.5 L711.3 390.5" stroke-width="0.8" fill="none"/>
<path d="M697.4 396 L711.3 396" stroke-width="0.8" fill="none"/>
<path d="M697.4 401.4 L711.3 401.4" stroke-width="0.8" fill="none"/>
<path d="M711.3 359.8 L732 359.8 L732 402.6 L711.3 402.6 Z" stroke-width="1.5499999999999998" fill="none"/>
<text x="731.6" y="354.8" font-size="6.0" font-weight="normal" text-anchor="middle" textLength="7.6" lengthAdjust="spacingAndGlyphs" stroke="#1b1b1b" stroke-width="0.42">114</text>
<path d="M732.4 355.4 L730.6 359.8" stroke-width="0.8" fill="none"/>
<text transform="translate(715.2 401.2) scale(0.72 1)" font-size="4.0" font-weight="bold" text-anchor="middle" stroke="#1b1b1b" stroke-width="0.32">E</text>
<text x="745.6" y="386.8" font-size="5.8" font-weight="bold" text-anchor="middle" textLength="16.3" lengthAdjust="spacingAndGlyphs" stroke="#1b1b1b" stroke-width="0.32">CREDIT</text>
<text x="746.6" y="393" font-size="5.8" font-weight="bold" text-anchor="middle" textLength="21.3" lengthAdjust="spacingAndGlyphs" stroke="#1b1b1b" stroke-width="0.32">REGISTER</text>
<path d="M728 387 L733 388" stroke-width="0.8" fill="none"/>
<path d="M689.4 403.7 L689.4 413.6" stroke-width="0.9" fill="none"/>
<text x="692" y="419.1" font-size="5.8" font-weight="bold" text-anchor="middle" textLength="17" lengthAdjust="spacingAndGlyphs" stroke="#1b1b1b" stroke-width="0.32">SWITCH</text>
</svg>
<div id="rule"></div>
</body></html>
